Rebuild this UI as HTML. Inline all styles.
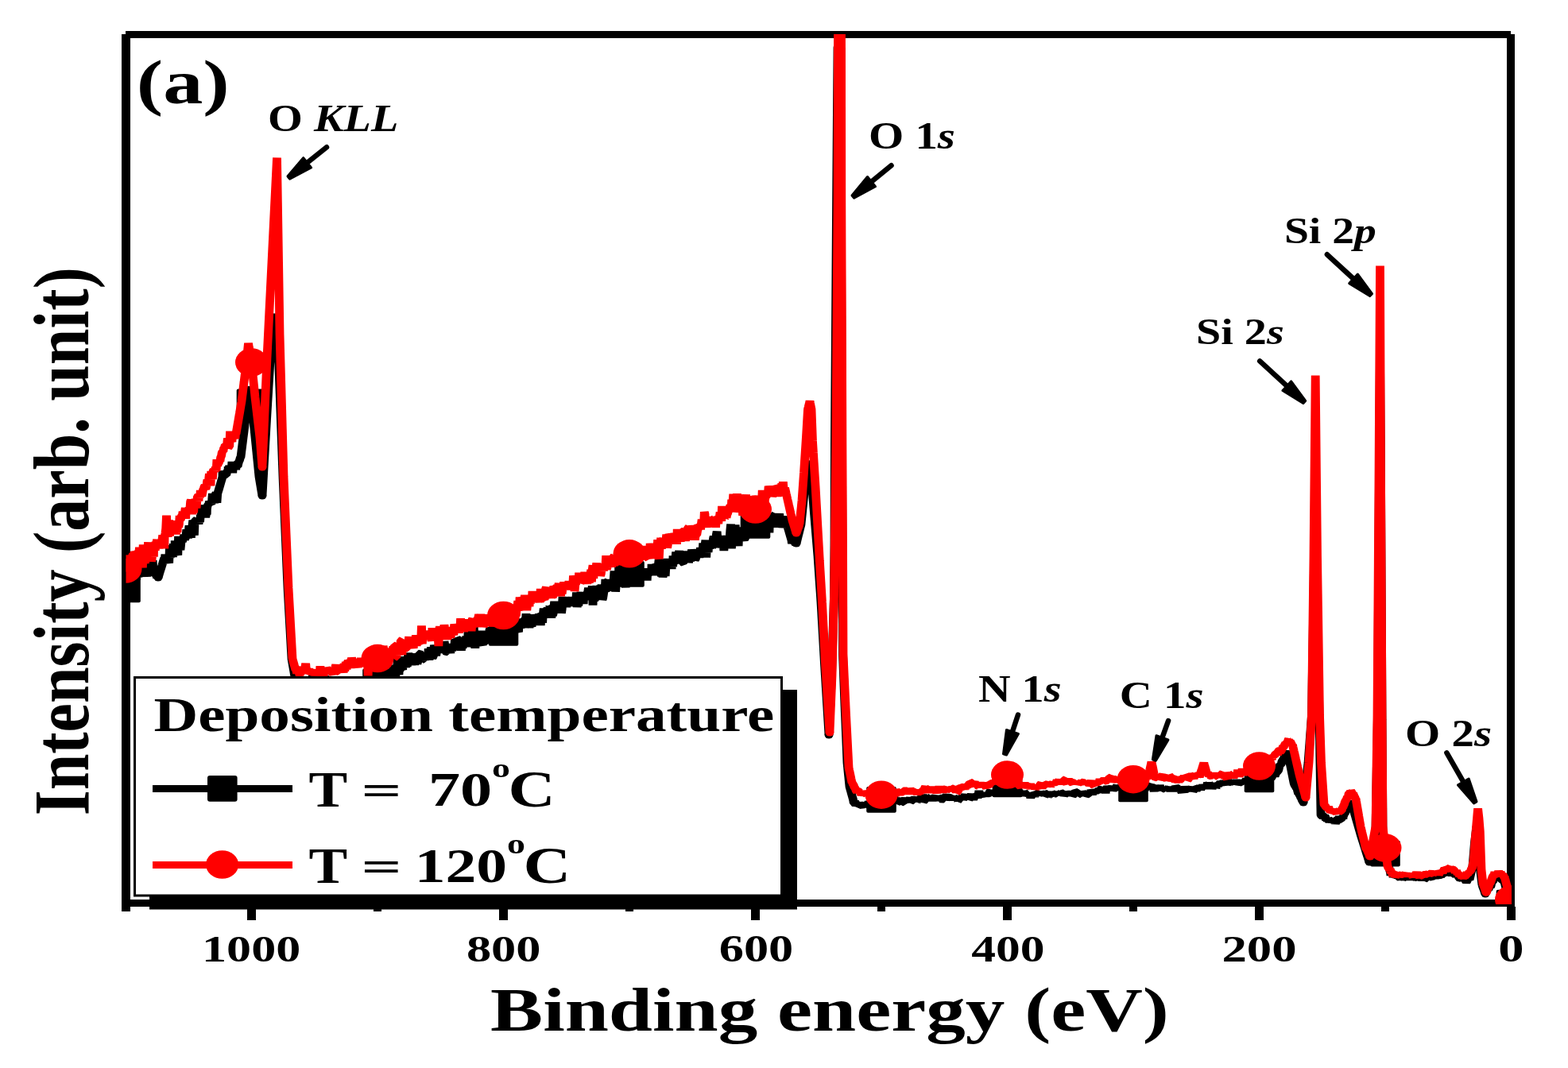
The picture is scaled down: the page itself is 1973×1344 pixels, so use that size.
<!DOCTYPE html>
<html><head><meta charset="utf-8"><title>XPS survey spectrum</title>
<style>
html,body{margin:0;padding:0;background:#fff;width:1973px;height:1344px;overflow:hidden}
svg{display:block}
text{font-family:"Liberation Serif","Times New Roman",serif;font-weight:bold;fill:#000}
</style></head><body>
<svg width="1973" height="1344" viewBox="0 0 1973 1344">
<rect x="0" y="0" width="1973" height="1344" fill="#fff"/>
<g fill="#000">
<rect x="158" y="39" width="1743" height="9"/>
<rect x="153" y="43" width="11" height="1104"/>
<rect x="1896" y="43" width="10" height="1098"/>
<rect x="153" y="1132" width="1753" height="9"/>
<rect x="1896.0" y="1141" width="11" height="17"/>
<rect x="1738.0" y="1141" width="10" height="6"/>
<rect x="1579.0" y="1141" width="11" height="17"/>
<rect x="1421.0" y="1141" width="10" height="6"/>
<rect x="1262.0" y="1141" width="11" height="17"/>
<rect x="1104.0" y="1141" width="10" height="6"/>
<rect x="945.0" y="1141" width="11" height="17"/>
<rect x="787.0" y="1141" width="10" height="6"/>
<rect x="628.0" y="1141" width="11" height="17"/>
<rect x="470.0" y="1141" width="10" height="6"/>
<rect x="311.0" y="1141" width="11" height="17"/>
</g>
<defs><clipPath id="pc"><rect x="158.5" y="43" width="1743.5" height="1095"/></clipPath></defs>
<g clip-path="url(#pc)">
<polyline transform="scale(1.2,1)" points="131.67,742.2 132.08,750.7 132.33,746.9 132.99,738.0 133.65,737.6 134.31,735.3 134.97,738.8 135.63,734.7 136.29,737.0 136.95,724.3 137.61,738.0 138.27,729.3 138.93,731.5 139.17,727.2 139.59,725.2 140.25,730.2 140.91,732.1 141.57,724.9 142.23,724.7 142.89,729.7 143.55,719.1 144.21,714.4 144.88,726.4 145.54,718.9 146.20,710.3 146.86,717.0 147.52,718.8 148.18,713.6 148.84,711.2 149.50,720.6 150.00,725.8 150.16,718.4 150.82,714.9 151.48,722.0 152.14,723.9 152.80,717.0 153.46,722.3 154.12,725.3 154.78,716.9 155.44,712.8 156.10,720.1 156.76,719.2 157.42,724.5 158.08,708.8 158.74,712.6 159.40,711.2 160.06,705.1 160.73,717.0 161.17,719.1 161.39,714.0 162.05,722.7 162.71,722.4 163.37,723.3 164.03,724.1 164.69,727.5 165.35,721.4 165.83,727.0 166.01,726.3 166.67,723.8 167.33,721.2 167.99,718.7 168.65,716.2 169.31,713.6 169.97,711.1 170.63,708.5 171.29,706.0 171.95,703.5 172.33,702.0 172.61,704.9 173.27,697.7 173.93,707.4 174.59,703.6 175.25,697.9 175.91,702.5 176.58,705.9 177.24,708.7 177.90,686.1 178.56,701.4 179.22,698.1 179.88,693.8 180.54,687.2 181.20,701.2 181.86,684.2 182.52,695.4 183.18,699.5 183.50,680.3 183.84,688.4 184.50,681.5 185.16,689.8 185.82,696.4 186.48,698.5 187.14,675.0 187.80,681.2 188.46,687.9 189.12,692.2 189.78,684.4 190.44,676.5 191.10,681.8 191.76,679.0 192.43,676.9 193.09,672.9 193.75,678.6 194.41,677.2 194.67,674.5 195.07,673.2 195.73,666.5 196.39,669.6 197.05,677.4 197.71,669.0 198.37,661.3 199.03,674.8 199.69,669.5 200.35,676.7 201.01,664.8 201.67,661.0 202.33,654.7 202.99,668.2 203.65,673.6 204.31,654.7 204.97,654.5 205.63,660.0 205.83,651.9 206.29,654.2 206.95,652.8 207.61,655.2 208.28,659.7 208.94,652.3 209.60,656.8 210.26,647.8 210.92,651.4 211.58,635.7 212.24,638.9 212.90,651.5 213.56,642.2 214.22,648.3 214.88,647.2 215.54,650.9 216.20,647.0 216.86,647.3 217.00,640.4 217.52,636.6 218.18,635.3 218.84,635.3 219.50,631.0 220.16,632.7 220.82,633.8 221.48,634.4 222.14,630.3 222.80,621.2 223.46,629.3 224.13,629.6 224.79,632.7 225.45,629.0 226.11,621.8 226.77,620.2 227.43,632.7 228.08,621.5 228.09,621.5 228.75,618.8 229.41,616.1 230.07,613.4 230.73,610.7 231.39,608.0 232.05,605.3 232.71,602.6 233.33,600.0 233.37,592.2 234.03,598.0 234.69,593.8 235.35,597.2 236.01,593.1 236.67,597.6 237.33,597.5 237.99,593.7 238.65,592.6 239.25,590.6 239.31,587.1 239.98,588.8 240.64,586.6 241.30,592.3 241.96,589.8 242.62,593.4 243.28,580.9 243.94,595.2 244.60,584.4 245.26,584.6 245.92,588.0 246.58,585.5 247.24,591.0 247.90,585.3 248.17,582.5 248.56,586.9 249.22,586.9 249.88,583.5 250.54,580.7 251.20,579.2 251.86,576.2 252.50,575.0 252.52,574.8 253.18,568.4 253.84,562.1 254.50,555.8 255.16,549.4 255.83,543.1 256.49,536.7 256.67,535.0 257.15,529.2 257.81,521.3 258.47,513.4 259.13,505.5 259.79,497.5 260.45,489.6 260.83,487.8 261.11,487.0 261.77,491.7 262.43,496.5 263.09,501.2 263.75,506.0 264.41,513.7 265.07,521.4 265.73,529.1 266.39,536.8 266.67,540.0 267.05,544.6 267.71,552.6 268.37,560.5 269.03,568.4 269.69,576.3 270.35,584.2 271.01,592.2 271.67,600.0 271.68,600.1 272.34,604.8 273.00,609.6 273.66,614.3 274.32,619.1 274.98,623.8 275.00,624.0 275.64,610.7 276.30,597.0 276.96,583.3 277.62,569.5 278.28,555.8 278.94,542.1 279.60,528.3 280.00,520.0 280.26,514.8 280.92,501.6 281.58,488.4 282.24,475.2 282.90,462.0 283.56,448.7 284.22,435.5 284.88,422.3 285.00,420.0 285.54,416.7 286.20,412.8 286.86,408.8 287.52,404.9 288.19,400.9 288.85,396.9 289.17,395.0 289.51,401.4 290.17,413.9 290.83,426.3 291.49,438.8 292.08,450.0 292.15,452.1 292.81,473.7 293.47,495.3 294.13,517.0 294.79,538.6 295.45,560.2 296.11,581.8 296.67,600.0 296.77,602.9 297.43,621.4 298.09,639.9 298.75,658.4 299.41,676.9 300.07,695.4 300.73,713.9 301.39,732.4 301.67,740.0 302.05,748.3 302.71,762.4 303.38,776.5 304.04,790.6 304.70,804.7 305.36,818.8 305.83,829.0 306.02,830.3 306.68,834.8 307.34,839.4 308.00,843.9 308.66,848.5 309.17,852.0 309.32,846.6 309.98,851.9 310.64,851.9 311.30,854.2 311.96,850.2 312.62,856.2 313.28,868.0 313.94,851.3 314.60,857.5 315.26,855.8 315.92,858.1 316.58,851.6 316.67,854.0 317.24,859.7 317.90,858.0 318.56,864.0 319.22,855.8 319.89,859.0 320.55,868.7 321.21,855.9 321.87,855.5 322.53,858.6 323.19,858.6 323.85,861.8 324.51,859.4 325.17,856.4 325.83,859.8 326.49,868.4 327.15,863.7 327.81,849.6 328.47,858.9 329.13,856.4 329.79,861.8 330.45,859.0 331.11,866.5 331.77,863.1 332.43,863.0 333.09,860.6 333.33,859.9 333.75,861.2 334.41,864.5 335.08,861.9 335.74,858.8 336.40,864.5 337.06,860.7 337.72,859.7 338.38,857.2 339.04,858.0 339.70,857.8 340.36,850.2 341.02,863.6 341.68,862.0 342.34,859.3 343.00,863.7 343.66,861.5 344.32,861.3 344.98,851.3 345.64,859.2 346.30,861.9 346.96,865.6 347.62,866.4 348.28,865.0 348.94,855.9 349.60,852.3 350.26,862.0 350.93,860.1 351.59,863.4 352.25,859.6 352.91,860.8 353.57,854.8 354.23,861.6 354.89,858.4 355.55,861.2 356.21,861.6 356.87,859.6 357.53,861.1 358.19,860.0 358.33,862.7 358.85,861.8 359.51,858.1 360.17,857.9 360.83,866.1 361.49,859.6 362.15,863.5 362.81,861.4 363.47,858.0 364.13,857.4 364.79,860.4 365.45,860.9 366.11,862.2 366.78,855.6 367.44,857.9 368.10,859.7 368.76,865.6 369.42,851.7 370.08,861.5 370.74,858.1 371.40,861.5 372.06,858.3 372.72,861.3 373.38,865.5 374.04,861.2 374.70,861.5 375.36,861.3 376.02,857.4 376.68,861.9 377.34,859.3 378.00,857.2 378.66,859.9 379.32,859.2 379.98,862.6 380.00,859.9 380.64,858.1 381.30,864.9 381.96,863.2 382.63,864.1 383.29,861.7 383.95,858.9 384.61,857.1 385.27,857.8 385.93,864.5 386.59,859.8 387.25,850.9 387.91,858.8 388.57,851.1 389.23,859.7 389.89,852.1 390.55,851.7 391.21,859.2 391.87,858.1 392.53,849.3 393.19,862.4 393.85,870.1 394.51,850.0 395.17,868.1 395.83,854.2 396.49,854.9 397.15,856.2 397.81,848.8 398.48,863.5 399.14,858.6 399.80,851.4 400.46,853.6 401.12,846.3 401.78,852.3 402.44,859.0 403.10,844.0 403.76,850.6 404.42,853.4 405.08,857.9 405.74,859.2 406.40,848.8 407.06,846.8 407.72,853.0 408.38,848.1 409.04,848.0 409.70,855.2 410.36,858.1 411.02,849.9 411.67,846.9 411.68,851.1 412.34,836.8 413.00,846.3 413.66,839.8 414.33,858.0 414.99,848.0 415.65,844.1 416.31,841.5 416.97,827.9 417.63,844.9 418.29,849.1 418.95,835.4 419.61,842.4 420.27,841.8 420.93,828.5 421.59,841.4 422.25,843.0 422.25,836.8 422.91,834.9 423.57,839.3 424.23,826.2 424.89,834.9 425.55,839.9 426.21,827.0 426.87,839.0 427.53,830.9 428.19,821.5 428.85,832.1 429.51,827.0 430.18,833.8 430.84,825.3 431.50,837.3 432.16,827.2 432.82,832.9 433.48,827.4 434.14,828.6 434.80,836.6 435.46,831.0 436.12,827.3 436.78,822.3 437.44,835.3 438.10,832.7 438.76,826.6 439.42,829.4 439.58,822.3 440.08,822.2 440.74,822.9 441.40,829.0 442.06,828.4 442.72,822.3 443.38,830.2 444.04,830.1 444.70,826.4 445.36,830.8 446.03,823.2 446.69,823.8 447.35,826.7 448.01,823.6 448.67,827.8 449.33,816.3 449.99,830.7 450.65,818.2 451.31,821.3 451.97,814.3 452.63,824.8 453.29,828.2 453.95,826.7 454.61,825.1 455.27,811.6 455.93,815.6 456.59,817.0 456.67,814.4 457.25,825.3 457.91,819.8 458.57,818.3 459.23,820.7 459.89,812.5 460.55,812.3 461.21,812.1 461.88,819.3 462.54,818.1 463.20,819.0 463.86,821.4 464.52,807.6 465.18,811.6 465.58,815.3 465.84,807.1 466.50,811.6 467.16,820.2 467.82,820.7 468.48,820.6 469.14,815.0 469.80,813.6 470.46,820.8 471.12,812.9 471.78,816.8 472.33,822.3 472.44,812.9 473.10,811.3 473.76,814.2 474.42,817.3 475.08,816.3 475.74,814.2 476.40,816.1 477.06,803.9 477.73,807.6 478.39,812.9 479.05,806.6 479.71,804.0 480.37,804.4 481.03,805.7 481.69,809.4 482.35,804.4 483.01,811.0 483.67,818.7 484.33,808.3 484.99,815.8 485.65,810.0 486.31,802.0 486.97,806.4 487.63,802.1 488.29,811.4 488.95,800.5 489.61,813.8 490.27,809.3 490.93,794.7 491.59,809.8 492.25,813.7 492.91,800.5 493.57,810.0 494.24,794.3 494.67,805.4 494.90,794.8 495.56,806.4 496.22,793.8 496.88,789.0 497.54,805.5 498.20,815.8 498.86,799.8 499.52,807.5 500.18,803.3 500.84,800.8 501.50,805.8 502.16,811.3 502.82,795.3 503.48,805.1 504.14,803.7 504.80,793.8 505.46,810.4 506.12,812.1 506.78,796.0 507.44,810.6 508.10,801.2 508.76,799.9 509.42,808.9 510.09,801.7 510.75,802.1 511.41,808.5 512.07,807.1 512.73,804.8 513.39,792.0 514.05,790.9 514.71,805.6 515.37,794.2 516.03,799.9 516.69,793.1 517.35,797.8 518.01,791.6 518.67,807.5 519.33,792.8 519.99,797.5 520.65,797.0 521.31,804.5 521.97,789.9 522.63,797.4 523.29,796.3 523.95,800.2 524.61,799.8 525.27,794.5 525.94,798.2 526.60,794.6 527.26,799.1 527.92,795.8 528.58,792.4 529.24,795.5 529.90,797.3 530.56,807.3 531.22,791.8 531.88,795.8 532.54,801.8 533.20,781.9 533.86,783.4 534.52,786.1 535.18,791.6 535.84,805.3 536.50,793.6 537.16,797.7 537.82,789.5 538.48,776.8 539.14,777.2 539.80,795.2 540.46,790.2 541.13,781.7 541.79,794.6 542.45,779.6 543.11,793.9 543.77,795.3 544.43,782.7 545.09,780.4 545.75,790.8 546.41,779.7 547.07,790.1 547.73,778.4 548.39,789.1 549.05,784.8 549.71,781.5 550.37,778.6 551.03,784.4 551.69,772.3 552.35,780.8 553.01,779.8 553.67,785.3 554.33,774.3 554.99,790.3 555.65,778.7 556.31,773.8 556.98,787.3 557.64,788.5 558.30,777.9 558.96,773.7 559.62,778.3 560.28,774.0 560.94,775.7 561.60,785.6 561.67,779.2 562.26,777.4 562.92,778.1 563.58,775.5 564.24,780.0 564.90,779.8 565.56,772.5 566.22,774.7 566.88,787.0 567.54,775.6 568.20,771.9 568.86,783.7 569.52,772.1 570.18,765.6 570.84,774.9 571.50,765.9 572.16,767.7 572.83,771.8 573.49,768.9 574.15,764.9 574.81,765.7 575.47,765.1 576.13,774.3 576.79,763.5 577.45,763.9 578.11,777.9 578.77,763.2 579.43,774.0 580.09,772.6 580.75,764.2 581.41,756.8 582.07,766.7 582.73,767.4 583.39,768.7 583.92,763.4 584.05,769.6 584.71,770.4 585.37,756.7 586.03,770.1 586.69,763.0 587.35,758.7 588.01,759.8 588.68,771.6 589.34,766.5 590.00,751.0 590.66,761.0 591.32,759.6 591.98,759.1 592.64,757.1 593.30,751.6 593.96,764.1 594.62,754.0 595.28,756.9 595.94,755.4 596.60,754.5 597.26,762.3 597.92,760.1 598.58,754.0 599.24,752.3 599.90,754.7 600.56,762.4 601.22,757.5 601.88,757.8 602.54,754.5 603.20,754.7 603.86,757.0 604.53,745.5 605.19,764.2 605.85,750.8 606.25,751.9 606.51,762.2 607.17,755.8 607.83,754.5 608.49,750.8 609.15,745.1 609.81,754.4 610.47,759.7 611.13,747.9 611.79,760.0 612.45,746.0 613.11,747.9 613.77,754.4 614.43,751.3 615.09,754.8 615.75,746.7 616.41,744.8 617.07,739.9 617.73,743.2 618.39,743.6 619.05,741.4 619.71,750.7 620.38,745.0 621.04,737.4 621.70,761.7 622.36,743.2 623.02,740.6 623.68,754.0 624.34,753.3 625.00,740.3 625.66,738.2 626.32,740.5 626.98,751.9 627.64,743.7 628.30,740.7 628.58,744.8 628.96,751.4 629.62,736.6 630.28,741.7 630.94,735.7 631.60,754.8 632.26,752.3 632.92,747.1 633.58,740.7 634.24,744.5 634.90,728.9 635.56,741.5 636.23,732.1 636.89,731.7 637.55,734.6 638.21,736.1 638.87,740.7 639.53,740.9 640.19,738.1 640.85,730.9 641.51,739.4 642.17,734.5 642.83,741.2 643.49,729.2 644.15,718.6 644.81,730.7 645.47,744.6 646.13,734.9 646.79,730.8 647.45,736.2 648.11,733.7 648.77,733.0 649.43,727.1 650.09,729.9 650.75,730.1 651.41,725.0 652.08,721.9 652.74,728.3 653.40,732.4 654.06,730.2 654.72,728.8 655.38,728.4 656.04,739.4 656.70,726.1 657.36,729.9 658.02,734.5 658.68,723.5 659.34,724.2 660.00,728.0 660.42,731.3 660.66,723.7 661.32,723.8 661.98,722.2 662.64,715.0 663.30,727.6 663.96,720.0 664.62,711.8 665.28,720.4 665.94,711.5 666.60,715.4 667.26,720.9 667.93,715.6 668.59,726.5 669.25,712.4 669.91,721.8 670.57,723.3 671.23,728.2 671.89,725.1 672.55,721.2 673.21,720.3 673.87,719.4 674.53,725.8 675.19,715.9 675.85,722.2 676.51,718.7 677.17,720.5 677.83,717.6 678.49,730.6 679.15,715.2 679.81,720.1 680.47,720.1 681.13,721.8 681.79,720.8 682.45,720.6 683.11,723.5 683.33,709.8 683.77,717.9 684.44,710.8 685.10,718.6 685.76,710.5 686.42,711.4 687.08,716.1 687.74,723.8 688.40,719.0 689.06,717.2 689.72,723.0 690.38,709.7 691.04,703.1 691.70,712.0 692.36,712.5 693.02,720.6 693.68,725.2 694.34,705.9 695.00,726.5 695.66,721.2 696.32,716.9 696.98,714.0 697.64,725.1 698.30,711.9 698.96,708.5 699.62,711.6 700.29,703.0 700.95,712.8 701.61,709.4 702.27,711.5 702.93,711.3 703.59,703.3 704.25,716.0 704.91,702.9 705.57,713.1 705.83,699.3 706.23,709.9 706.89,703.0 707.55,707.5 708.21,703.3 708.87,694.6 709.53,700.1 710.19,706.3 710.85,709.0 711.51,697.2 712.17,693.3 712.83,699.8 713.49,703.1 714.15,700.5 714.81,699.2 715.48,708.0 716.14,708.3 716.80,706.8 717.46,697.2 718.12,702.5 718.78,700.6 719.44,693.5 720.10,705.9 720.76,701.2 721.42,697.7 722.08,707.9 722.74,704.0 723.40,704.1 724.06,705.7 724.72,702.7 725.38,691.5 726.04,696.0 726.70,703.3 727.36,693.2 728.02,697.4 728.17,699.3 728.68,704.7 729.34,703.5 730.00,701.0 730.66,694.6 731.33,700.3 731.99,697.8 732.65,693.6 733.31,701.6 733.97,696.4 734.63,689.2 735.29,699.9 735.95,691.1 736.61,695.4 737.27,683.4 737.93,691.3 738.59,685.8 739.25,685.3 739.91,679.7 740.57,701.6 741.23,688.6 741.89,690.4 742.55,694.8 743.21,687.6 743.87,690.7 744.53,680.1 745.19,688.2 745.85,684.5 746.51,689.1 747.18,687.0 747.84,678.0 748.50,675.0 749.16,679.2 749.82,688.5 750.48,686.4 750.50,686.3 751.14,672.7 751.80,668.7 752.46,679.8 753.12,681.2 753.78,679.4 754.44,684.4 755.10,681.2 755.76,675.4 756.42,676.8 757.08,682.2 757.74,681.5 758.40,680.4 759.06,693.0 759.72,678.9 760.38,680.7 761.04,674.3 761.70,677.5 762.36,682.1 763.02,682.1 763.69,677.8 764.35,680.6 765.01,678.5 765.67,667.5 766.33,659.6 766.99,690.1 767.65,681.7 768.31,676.5 768.97,667.0 769.63,669.3 770.29,683.5 770.95,660.4 771.61,673.7 772.27,680.0 772.83,675.8 772.93,679.1 773.59,673.7 774.25,687.2 774.91,667.9 775.57,665.6 776.23,674.1 776.89,680.0 777.55,671.4 778.21,677.0 778.88,667.8 779.54,663.8 780.20,677.5 780.86,678.0 781.52,677.3 782.18,666.0 782.84,661.6 783.50,661.1 784.16,665.8 784.82,669.8 785.48,668.9 786.14,657.8 786.80,666.3 787.46,664.8 788.12,664.8 788.78,663.7 789.44,662.2 790.10,666.2 790.76,663.1 791.42,663.2 792.08,657.7 792.74,663.4 793.40,660.2 794.06,648.9 794.73,662.9 795.39,658.4 796.05,664.7 796.71,658.4 797.37,658.4 798.03,659.8 798.69,658.2 799.35,655.5 800.01,647.8 800.67,667.5 801.33,648.3 801.99,654.8 802.65,660.0 803.31,658.1 803.97,658.9 804.63,659.6 805.29,662.0 805.95,656.4 806.61,670.4 807.27,648.6 807.93,655.1 808.59,651.5 809.25,650.2 809.91,654.4 810.58,660.5 811.24,648.3 811.67,648.1 811.90,656.1 812.56,655.3 813.22,663.3 813.88,658.4 814.54,654.2 815.20,651.3 815.86,654.5 816.52,652.6 817.18,646.3 817.84,654.0 818.50,653.2 819.16,653.1 819.82,652.2 820.48,664.1 821.14,658.9 821.80,660.4 822.46,652.1 823.12,650.0 823.78,654.3 824.17,656.0 824.44,657.1 825.10,659.9 825.76,662.6 826.43,665.3 827.09,668.0 827.75,670.7 828.41,673.4 829.07,676.2 829.73,678.9 830.00,680.0 830.39,684.1 831.05,681.0 831.71,676.3 832.37,678.5 833.03,683.1 833.69,683.5 834.35,684.5 835.00,684.0 835.01,683.9 835.67,680.8 836.33,677.6 836.99,674.4 837.65,671.3 838.31,668.1 838.97,664.9 839.63,661.8 840.00,660.0 840.29,656.5 840.95,648.6 841.61,640.6 842.28,632.7 842.94,624.8 843.33,620.0 843.60,617.4 844.26,610.8 844.92,604.2 845.58,597.6 845.83,595.0 846.24,592.6 846.90,588.6 847.56,584.6 848.22,580.7 848.33,580.0 848.88,584.4 849.54,589.6 850.20,594.9 850.83,600.0 850.86,600.4 851.52,611.0 852.18,621.6 852.84,632.1 853.33,640.0 853.50,642.4 854.16,651.9 854.82,661.4 855.48,671.0 856.14,680.5 856.80,690.0 857.46,699.5 857.50,700.0 858.12,710.9 858.79,722.4 859.45,733.9 860.11,745.3 860.77,756.8 860.83,758.0 861.43,770.4 862.09,784.1 862.75,797.8 863.41,811.6 864.07,825.3 864.58,836.0 864.73,838.8 865.39,851.7 866.05,864.5 866.71,877.3 867.37,890.1 868.03,903.0 868.69,915.8 869.17,925.0 869.35,920.2 870.01,903.3 870.67,886.3 871.33,869.3 871.99,852.3 872.08,850.0 872.65,827.2 873.31,800.8 873.98,774.3 874.58,750.0 874.64,741.2 875.00,680.0 875.30,573.5 875.33,560.0 875.96,454.7 876.62,343.0 877.17,250.0 877.28,232.0 877.94,124.5 878.33,60.0 878.60,58.7 879.26,58.6 879.92,59.7 880.58,58.7 881.24,62.9 881.67,60.0 881.90,237.3 881.92,250.0 882.56,467.7 882.83,560.0 883.22,668.5 883.33,700.0 883.75,823.0 883.88,827.1 884.54,847.7 885.20,868.3 885.83,888.0 885.86,888.8 886.52,907.9 887.18,926.9 887.84,945.9 888.33,960.0 888.50,962.0 889.16,970.0 889.83,977.9 890.49,985.8 890.83,990.0 891.15,991.4 891.81,994.2 892.47,997.1 893.13,999.9 893.79,1002.8 894.45,1005.6 895.00,1008.7 895.11,1010.6 895.77,1010.9 896.43,1008.7 897.09,1010.2 897.75,1011.3 898.41,1012.5 899.07,1012.1 899.73,1011.4 900.00,1013.9 900.39,1013.7 901.05,1011.3 901.71,1012.3 902.37,1013.0 903.03,1012.6 903.69,1013.2 904.35,1013.4 905.01,1013.0 905.67,1012.2 906.34,1010.6 907.00,1012.9 907.66,1013.7 908.32,1014.4 908.33,1011.9 908.98,1011.7 909.64,1014.1 910.30,1013.9 910.96,1011.7 911.62,1012.1 912.28,1009.2 912.94,1011.4 913.60,1008.7 914.26,1009.7 914.92,1009.5 915.58,1008.6 916.24,1005.4 916.90,1007.5 917.56,1009.4 918.22,1008.4 918.88,1007.6 919.54,1008.9 920.20,1009.1 920.86,1009.1 921.52,1005.9 922.19,1007.2 922.85,1006.3 923.51,1005.1 924.17,1003.8 924.83,1006.3 925.49,1005.0 926.15,1010.5 926.81,1006.5 927.47,1006.3 928.13,1006.0 928.79,1010.1 929.45,1005.1 930.11,1006.5 930.77,1005.5 931.43,1006.7 932.09,1006.9 932.75,1009.0 933.41,1004.5 934.07,1007.0 934.73,1010.0 935.39,1006.2 936.05,1006.9 936.71,1005.6 937.38,1002.6 938.04,1007.1 938.70,1009.5 939.36,1006.6 940.02,1004.1 940.68,1008.0 941.34,1007.7 942.00,1009.4 942.66,1009.2 943.32,1007.2 943.98,1008.4 944.64,1004.5 945.30,1009.8 945.96,1008.1 946.62,1009.8 947.28,1009.8 947.94,1007.4 948.60,1007.7 948.67,1006.4 949.26,1004.2 949.92,1007.6 950.58,1008.0 951.24,1005.7 951.90,1008.8 952.56,1007.6 953.22,1008.2 953.89,1005.9 954.55,1004.0 955.21,1008.5 955.87,1008.1 956.53,1006.7 957.19,1006.1 957.85,1006.3 958.51,1006.4 959.17,1005.7 959.83,1002.9 960.49,1007.8 961.15,1003.6 961.81,1005.6 962.47,1005.6 963.13,1006.5 963.79,1003.1 964.45,1008.1 965.11,1007.0 965.77,1007.1 966.43,1007.9 967.09,1004.1 967.75,999.8 968.41,1006.0 969.07,1007.7 969.74,1007.3 970.40,1004.2 971.06,1004.9 971.72,1005.5 972.38,1001.6 973.04,1003.6 973.70,1003.6 974.36,1007.5 975.02,1003.4 975.68,1007.3 976.34,1004.4 977.00,1001.3 977.66,1008.2 978.32,1002.3 978.98,1005.1 979.64,1007.0 980.30,1002.9 980.96,1001.5 981.62,1005.5 982.28,1003.7 982.92,1001.3 982.94,1001.6 983.60,1002.8 984.26,1005.3 984.92,1003.1 985.59,1004.9 986.25,1006.7 986.91,1006.0 987.57,1006.4 988.23,1006.1 988.89,1001.0 989.55,1006.1 990.21,1004.6 990.87,1003.8 991.53,1002.1 992.19,1001.2 992.85,1002.2 993.51,1004.2 994.17,1002.1 994.83,1002.8 995.49,1003.2 996.15,1005.6 996.81,1003.9 997.47,1004.2 998.13,1006.9 998.79,1004.0 999.45,1005.7 1000.11,1002.7 1000.78,1005.3 1001.44,1004.9 1002.10,1005.1 1002.76,1004.0 1003.42,1003.0 1004.08,1004.4 1004.74,1004.1 1005.40,1006.8 1005.75,1006.6 1006.06,1002.8 1006.72,1005.9 1007.38,1003.8 1008.04,1005.3 1008.70,1003.5 1009.36,1001.6 1010.02,1005.9 1010.68,1004.7 1011.34,1001.6 1012.00,1000.2 1012.66,1002.5 1013.32,1001.2 1013.98,1002.5 1014.64,1004.1 1015.30,1005.5 1015.96,1002.1 1016.63,1005.1 1017.29,1004.5 1017.95,1001.5 1018.61,999.2 1019.27,1003.5 1019.93,1003.0 1020.59,1006.0 1021.25,1004.1 1021.91,1002.8 1022.57,1004.3 1023.23,999.2 1023.89,1001.3 1024.55,1000.4 1025.21,1003.8 1025.87,1001.6 1026.53,994.9 1027.19,1002.7 1027.85,998.5 1028.33,1001.4 1028.51,999.1 1029.17,1000.3 1029.83,1000.8 1030.49,999.9 1031.15,997.7 1031.81,1001.7 1032.48,999.8 1033.14,998.9 1033.80,1000.0 1034.46,997.7 1035.12,1001.9 1035.78,998.7 1036.44,998.8 1037.10,998.7 1037.76,996.2 1038.42,995.6 1039.08,998.0 1039.74,998.1 1040.40,999.7 1041.06,997.9 1041.72,995.0 1042.38,997.8 1043.04,998.2 1043.70,998.3 1044.36,997.0 1045.02,994.0 1045.68,998.2 1045.83,994.7 1046.34,996.6 1047.00,992.2 1047.66,995.8 1048.33,992.5 1048.99,995.3 1049.65,995.9 1050.31,994.3 1050.97,989.5 1051.63,989.3 1052.29,988.9 1052.95,991.1 1053.61,989.9 1054.27,989.0 1054.93,988.7 1055.59,988.6 1056.25,988.2 1056.91,990.8 1057.57,988.3 1058.23,989.5 1058.89,986.5 1059.55,988.1 1060.21,990.0 1060.87,989.8 1061.53,993.0 1062.19,995.2 1062.85,993.2 1063.51,993.8 1064.17,994.5 1064.84,996.3 1065.50,995.8 1066.16,998.2 1066.67,998.6 1066.82,998.6 1067.48,999.5 1068.14,998.2 1068.80,998.5 1069.46,1001.5 1070.12,998.3 1070.78,999.9 1071.44,998.6 1072.10,997.8 1072.76,997.8 1073.42,997.3 1074.08,998.8 1074.74,997.8 1075.40,998.2 1076.06,1001.2 1076.72,998.9 1077.38,1001.2 1078.04,999.7 1078.70,1000.9 1079.36,998.3 1080.03,999.7 1080.69,1004.3 1081.35,1001.1 1082.01,1001.5 1082.67,1000.2 1083.33,1001.4 1083.99,997.8 1084.65,998.4 1085.00,1000.8 1085.31,1001.5 1085.97,999.2 1086.63,999.6 1087.29,999.2 1087.95,999.5 1088.61,997.7 1089.27,997.2 1089.93,999.6 1090.59,996.6 1091.25,998.0 1091.91,998.5 1092.57,997.8 1093.23,1000.1 1093.89,998.8 1094.55,999.4 1095.21,997.7 1095.88,998.2 1096.54,1000.4 1097.20,1000.1 1097.86,998.6 1098.52,1000.0 1099.18,999.7 1099.84,999.6 1100.50,1002.2 1101.16,998.5 1101.82,1000.0 1102.48,1000.0 1103.14,998.7 1103.80,997.0 1104.46,1000.4 1105.12,999.6 1105.78,999.1 1106.44,999.1 1107.10,999.0 1107.76,997.4 1108.33,999.5 1108.42,995.7 1109.08,998.9 1109.74,996.2 1110.40,998.2 1111.06,1000.1 1111.73,998.4 1112.39,997.9 1113.05,999.7 1113.71,998.3 1114.37,998.0 1115.03,998.0 1115.69,1001.4 1116.35,999.9 1117.01,999.5 1117.67,996.5 1118.33,999.7 1118.99,996.3 1119.65,999.4 1120.31,996.5 1120.97,1002.0 1121.63,995.5 1122.29,1000.7 1122.95,999.9 1123.61,995.3 1124.27,998.0 1124.93,1001.0 1125.59,1000.4 1126.25,995.4 1126.91,997.4 1127.58,996.2 1128.24,996.5 1128.90,997.1 1129.56,1001.6 1130.22,998.5 1130.88,997.8 1131.54,997.6 1132.20,999.4 1132.86,999.4 1133.52,996.5 1134.18,1000.8 1134.84,996.2 1135.50,997.6 1136.16,998.9 1136.82,1001.1 1137.48,997.4 1138.14,998.5 1138.80,1000.3 1139.46,999.1 1140.12,1000.0 1140.78,999.8 1141.44,998.4 1142.10,999.0 1142.50,999.5 1142.76,997.8 1143.43,1000.5 1144.09,993.9 1144.75,995.6 1145.41,999.7 1146.07,997.6 1146.73,995.5 1147.39,997.2 1148.05,998.3 1148.71,995.1 1149.37,997.3 1150.03,995.5 1150.69,995.3 1151.35,995.2 1152.01,997.2 1152.67,993.0 1153.33,994.1 1153.99,995.8 1154.65,992.2 1155.31,991.4 1155.97,995.1 1156.63,993.9 1157.29,993.4 1157.95,993.7 1158.61,991.5 1159.28,998.4 1159.94,991.2 1160.60,992.0 1161.26,990.0 1161.92,991.6 1162.58,994.9 1163.24,992.0 1163.90,992.9 1164.56,990.7 1165.22,994.7 1165.33,991.7 1165.88,989.2 1166.54,992.9 1167.20,990.8 1167.86,992.6 1168.52,991.8 1169.18,992.1 1169.84,991.9 1170.50,990.1 1171.16,989.1 1171.82,993.6 1172.48,991.6 1173.14,992.4 1173.80,991.1 1174.46,988.3 1175.13,989.7 1175.79,994.6 1176.45,990.7 1177.11,991.5 1177.77,989.6 1178.43,991.3 1179.09,991.6 1179.75,991.9 1180.41,992.2 1181.07,991.3 1181.73,991.4 1182.39,992.5 1183.05,993.1 1183.71,992.3 1184.37,995.8 1185.03,993.0 1185.69,993.0 1186.35,991.6 1187.01,994.6 1187.67,991.0 1188.33,990.0 1188.99,991.0 1189.65,993.8 1190.31,990.5 1190.98,994.8 1191.64,992.3 1192.30,989.5 1192.96,991.7 1193.62,995.3 1194.28,990.4 1194.94,989.5 1195.60,992.7 1196.26,994.0 1196.92,993.4 1197.58,990.8 1198.24,991.7 1198.90,991.8 1199.56,993.2 1200.22,994.9 1200.88,990.7 1201.54,993.1 1202.20,990.1 1202.86,991.7 1203.52,988.8 1204.18,989.0 1204.84,991.0 1205.50,988.6 1206.16,991.7 1206.83,989.0 1207.49,990.0 1207.50,989.7 1208.15,989.4 1208.81,990.4 1209.47,992.2 1210.13,996.0 1210.79,988.4 1211.45,991.2 1212.11,990.5 1212.77,989.3 1213.43,991.6 1214.09,989.6 1214.75,991.2 1215.41,993.7 1216.07,988.0 1216.73,992.2 1217.39,992.7 1218.05,990.3 1218.71,993.1 1219.37,992.9 1220.03,991.8 1220.69,994.7 1221.35,990.3 1222.01,993.9 1222.42,992.5 1222.68,991.0 1223.34,992.6 1224.00,992.3 1224.66,994.4 1225.32,990.3 1225.98,992.7 1226.64,992.2 1227.30,995.9 1227.96,991.1 1228.62,995.1 1229.28,990.0 1229.94,993.8 1230.60,993.0 1231.26,993.9 1231.92,992.0 1232.58,989.8 1233.24,990.6 1233.90,995.7 1234.56,993.8 1235.22,991.9 1235.88,995.1 1236.54,992.1 1237.20,992.2 1237.86,991.4 1238.53,995.7 1239.19,997.1 1239.85,991.9 1240.51,994.2 1241.17,995.4 1241.83,997.5 1242.49,989.4 1243.15,994.0 1243.81,994.9 1244.47,991.2 1245.00,994.6 1245.13,994.2 1245.79,995.0 1246.45,992.5 1247.11,994.2 1247.77,992.2 1248.43,994.3 1249.09,993.3 1249.75,992.2 1250.41,990.2 1251.07,995.6 1251.73,994.5 1252.39,994.0 1253.05,991.1 1253.71,991.5 1254.38,995.0 1255.04,993.2 1255.70,990.2 1256.36,991.7 1257.02,991.7 1257.68,991.0 1258.34,989.5 1259.00,993.4 1259.66,992.0 1260.32,990.5 1260.98,987.9 1261.64,989.5 1262.30,990.4 1262.96,991.9 1263.62,989.5 1264.28,992.1 1264.94,990.2 1265.60,988.5 1266.26,984.7 1266.92,987.4 1267.58,986.7 1268.00,989.1 1268.24,989.9 1268.90,991.6 1269.56,989.0 1270.23,986.7 1270.89,992.9 1271.55,989.1 1272.21,987.9 1272.87,987.7 1273.53,985.6 1274.19,989.0 1274.85,988.4 1275.51,990.4 1276.17,989.4 1276.83,988.8 1277.49,989.4 1278.15,986.4 1278.81,986.0 1279.47,986.5 1280.13,984.2 1280.79,986.0 1281.45,985.5 1282.11,987.2 1282.77,985.8 1283.43,982.2 1284.09,985.6 1284.75,987.9 1285.41,981.9 1286.08,983.7 1286.74,984.9 1287.40,982.3 1288.06,983.6 1288.72,984.5 1289.38,981.9 1290.04,984.6 1290.70,984.7 1290.83,981.6 1291.36,983.9 1292.02,985.7 1292.68,983.4 1293.34,984.4 1294.00,984.8 1294.66,983.1 1295.32,985.2 1295.98,984.1 1296.64,981.5 1297.30,984.2 1297.96,984.8 1298.62,984.6 1299.28,981.9 1299.94,983.8 1300.60,985.4 1301.26,983.3 1301.92,984.9 1302.59,985.1 1303.25,982.6 1303.91,983.8 1304.57,982.0 1305.23,984.4 1305.89,982.3 1306.55,981.4 1307.21,982.2 1307.87,982.1 1308.53,982.8 1309.19,982.9 1309.85,979.9 1310.51,980.8 1311.17,982.5 1311.83,982.7 1312.49,981.9 1313.15,986.4 1313.81,983.6 1314.47,981.4 1315.13,982.8 1315.79,983.8 1316.45,982.0 1317.11,978.2 1317.78,981.4 1318.44,981.3 1319.10,985.0 1319.76,977.7 1320.42,983.8 1321.08,980.5 1321.74,982.2 1322.40,979.8 1323.06,980.4 1323.72,981.9 1324.38,979.8 1325.04,981.3 1325.70,979.0 1326.36,978.2 1327.02,978.3 1327.68,977.6 1328.34,978.0 1329.00,980.5 1329.66,975.7 1330.32,974.6 1330.98,977.3 1331.64,980.1 1332.30,978.7 1332.96,979.0 1333.62,978.3 1334.29,975.1 1334.95,976.1 1335.61,971.7 1336.27,974.5 1336.93,976.1 1337.50,975.0 1337.59,973.3 1338.25,972.2 1338.91,971.8 1339.57,970.9 1340.23,970.4 1340.89,968.0 1341.55,964.2 1342.21,962.0 1342.87,962.2 1343.53,961.3 1344.19,957.8 1344.85,957.0 1345.51,955.5 1346.17,954.2 1346.83,952.5 1347.49,951.4 1348.15,950.3 1348.81,947.9 1349.47,946.9 1350.00,945.0 1350.14,945.8 1350.80,949.8 1351.46,953.7 1352.12,957.7 1352.78,961.7 1353.44,965.6 1354.10,969.6 1354.76,973.6 1355.42,977.5 1356.08,981.5 1356.67,985.0 1356.74,985.5 1357.40,987.8 1358.06,989.3 1358.72,989.8 1359.38,992.5 1360.04,992.3 1360.70,995.8 1361.36,998.7 1362.02,998.8 1362.68,1000.5 1363.34,1001.8 1364.00,1004.0 1364.66,1004.8 1365.33,1007.2 1365.99,1008.2 1366.65,1009.7 1366.67,1010.0 1367.31,1003.6 1367.97,997.0 1368.63,990.4 1369.29,983.8 1369.95,977.2 1370.61,970.6 1371.27,964.0 1371.67,960.0 1371.93,955.8 1372.59,945.2 1373.25,934.7 1373.91,924.1 1374.57,913.5 1375.23,903.0 1375.42,900.0 1375.89,865.8 1376.55,818.3 1377.21,770.7 1377.50,750.0 1377.87,716.4 1378.53,657.0 1379.17,600.0 1379.19,602.4 1379.85,661.9 1380.51,721.3 1380.83,750.0 1381.18,770.5 1381.84,810.1 1382.50,849.7 1383.16,889.4 1383.33,900.0 1383.82,936.2 1384.48,985.8 1385.00,1025.0 1385.14,1026.1 1385.80,1026.8 1386.46,1024.9 1387.12,1025.0 1387.78,1030.4 1388.44,1027.8 1389.10,1026.8 1389.76,1028.1 1390.00,1030.2 1390.42,1032.1 1391.08,1030.7 1391.74,1032.8 1392.40,1031.7 1393.06,1032.4 1393.72,1033.5 1394.38,1031.8 1395.04,1033.1 1395.70,1032.4 1396.36,1032.4 1397.03,1034.6 1397.69,1032.7 1398.35,1034.4 1399.01,1033.4 1399.67,1034.8 1400.00,1034.3 1400.33,1036.5 1400.99,1034.4 1401.65,1033.8 1402.31,1035.6 1402.97,1028.3 1403.63,1030.4 1404.29,1027.4 1404.95,1030.9 1405.61,1031.0 1406.27,1030.8 1406.93,1029.7 1407.59,1027.4 1408.25,1030.8 1408.33,1028.5 1408.91,1026.4 1409.57,1024.2 1410.23,1023.8 1410.89,1021.5 1411.55,1020.0 1412.21,1018.9 1412.88,1017.3 1413.54,1014.9 1414.20,1014.9 1414.86,1011.6 1415.52,1009.9 1416.18,1009.4 1416.67,1008.0 1416.84,1008.7 1417.50,1011.5 1418.16,1014.3 1418.82,1017.0 1419.48,1019.8 1420.14,1022.6 1420.80,1025.4 1421.46,1028.1 1422.12,1030.9 1422.78,1033.7 1423.44,1036.5 1424.10,1039.2 1424.76,1042.0 1425.42,1044.8 1426.08,1047.5 1426.67,1050.0 1426.74,1050.3 1427.40,1052.8 1428.06,1055.3 1428.73,1057.9 1429.39,1060.4 1430.05,1062.9 1430.71,1065.4 1431.37,1067.9 1432.03,1070.5 1432.69,1073.0 1433.35,1075.5 1434.01,1078.0 1434.67,1080.6 1435.33,1083.1 1435.83,1085.0 1435.99,1084.1 1436.65,1080.1 1437.31,1076.1 1437.97,1072.2 1438.63,1068.2 1439.29,1064.2 1439.95,1060.3 1440.61,1056.3 1441.27,1052.4 1441.93,1048.4 1442.50,1045.0 1442.59,1038.5 1443.25,992.5 1443.91,946.5 1444.58,900.6 1444.58,900.0 1445.24,782.6 1445.90,663.7 1446.25,600.0 1446.56,544.9 1447.08,450.0 1447.22,474.0 1447.88,592.9 1447.92,600.0 1448.54,749.0 1449.17,900.0 1449.20,905.4 1449.86,1020.3 1450.00,1045.0 1450.52,1051.0 1451.18,1058.7 1451.84,1066.3 1452.50,1074.0 1453.16,1076.9 1453.82,1079.9 1454.48,1082.8 1455.14,1085.8 1455.80,1088.7 1456.46,1091.7 1457.12,1094.6 1457.78,1097.5 1458.33,1101.7 1458.44,1100.3 1459.10,1100.7 1459.76,1100.3 1460.42,1100.5 1461.09,1100.7 1461.75,1103.0 1462.41,1101.3 1463.07,1101.8 1463.73,1102.8 1464.39,1102.2 1465.05,1102.9 1465.71,1100.3 1466.37,1104.4 1466.67,1103.6 1467.03,1104.3 1467.69,1104.6 1468.35,1101.2 1469.01,1107.6 1469.67,1104.2 1470.33,1104.3 1470.99,1101.3 1471.65,1104.9 1472.31,1104.6 1472.97,1103.4 1473.63,1104.4 1474.29,1105.9 1474.95,1103.5 1475.61,1102.6 1476.28,1106.0 1476.94,1104.4 1477.60,1103.7 1478.26,1107.4 1478.92,1104.2 1479.58,1103.6 1480.24,1104.3 1480.90,1103.3 1481.56,1104.2 1482.22,1104.1 1482.88,1102.8 1483.54,1103.4 1484.20,1104.3 1484.86,1104.3 1485.52,1104.6 1486.18,1104.9 1486.84,1104.1 1487.50,1104.5 1488.16,1103.1 1488.82,1103.3 1489.48,1105.2 1490.14,1100.7 1490.80,1104.2 1491.46,1108.3 1492.12,1100.8 1492.79,1105.8 1493.45,1100.9 1494.11,1104.0 1494.77,1105.9 1495.43,1105.7 1496.09,1102.1 1496.75,1101.4 1497.41,1101.2 1498.07,1104.4 1498.73,1102.7 1499.39,1103.3 1500.05,1103.7 1500.71,1103.9 1501.37,1104.1 1502.03,1103.4 1502.69,1100.8 1503.35,1105.4 1504.01,1099.1 1504.67,1105.0 1505.33,1102.2 1505.99,1102.8 1506.65,1102.3 1507.31,1102.5 1507.97,1103.0 1508.33,1102.6 1508.64,1101.2 1509.30,1103.8 1509.96,1101.2 1510.62,1103.7 1511.28,1101.1 1511.94,1099.8 1512.60,1101.2 1513.26,1101.4 1513.92,1098.3 1514.58,1098.9 1515.00,1101.2 1515.24,1097.5 1515.90,1097.5 1516.56,1098.8 1517.22,1096.6 1517.88,1094.5 1518.54,1095.5 1519.20,1098.4 1519.86,1098.6 1520.52,1098.3 1521.18,1097.8 1521.67,1095.2 1521.84,1098.2 1522.50,1099.5 1523.16,1097.3 1523.83,1100.3 1524.49,1098.9 1525.15,1100.3 1525.81,1101.2 1526.47,1098.9 1527.13,1103.9 1527.79,1101.0 1528.45,1102.7 1529.11,1102.7 1529.77,1104.7 1530.43,1105.2 1531.09,1105.2 1531.75,1107.8 1532.41,1106.7 1533.07,1106.2 1533.33,1102.7 1533.73,1106.6 1534.39,1106.6 1535.05,1105.8 1535.71,1105.8 1536.37,1108.0 1537.03,1108.6 1537.69,1109.9 1538.35,1108.8 1539.01,1106.0 1539.67,1107.4 1540.34,1105.0 1540.83,1107.0 1541.00,1106.2 1541.66,1102.8 1542.32,1099.4 1542.98,1096.1 1543.64,1092.7 1544.17,1090.0 1544.30,1088.1 1544.96,1078.6 1545.62,1069.1 1546.25,1060.0 1546.28,1059.7 1546.94,1053.4 1547.60,1047.0 1548.26,1040.7 1548.33,1040.0 1548.92,1045.6 1549.58,1052.0 1550.24,1058.3 1550.42,1060.0 1550.90,1069.9 1551.56,1083.4 1552.08,1094.0 1552.22,1095.3 1552.88,1101.7 1553.54,1108.0 1554.17,1114.0 1554.20,1113.7 1554.86,1116.3 1555.53,1118.3 1556.19,1120.4 1556.85,1122.9 1557.50,1125.0 1557.51,1123.7 1558.17,1122.6 1558.83,1121.6 1559.49,1120.6 1560.15,1118.0 1560.81,1119.7 1561.47,1116.8 1562.13,1114.5 1562.50,1114.0 1562.79,1115.9 1563.45,1114.6 1564.11,1110.4 1564.77,1110.0 1565.43,1109.7 1566.09,1105.9 1566.67,1105.2 1566.75,1108.1 1567.41,1104.7 1568.07,1104.9 1568.73,1103.3 1569.39,1104.0 1570.05,1105.9 1570.71,1103.4 1571.38,1102.5 1572.04,1103.2 1572.50,1106.7 1572.70,1104.5 1573.36,1104.2 1574.02,1106.1 1574.68,1107.3 1575.34,1107.6 1576.00,1105.5 1576.66,1109.5 1577.32,1109.5 1577.50,1110.0 1577.98,1112.3 1578.64,1115.5 1579.30,1118.6 1579.96,1121.8 1580.62,1125.0 1580.83,1126.0 1581.28,1127.4 1581.94,1128.9 1582.60,1131.4 1583.26,1133.1 1583.92,1134.9 1584.58,1136.0" fill="none" stroke="#000" stroke-width="9" stroke-linejoin="bevel"/>
<ellipse cx="199.0" cy="727.0" rx="5.4" ry="4.5" fill="#000"/>
<ellipse cx="330.0" cy="624.0" rx="5.4" ry="4.5" fill="#000"/>
<ellipse cx="1002.0" cy="684.0" rx="5.4" ry="4.5" fill="#000"/>
<ellipse cx="1043.0" cy="925.0" rx="5.4" ry="4.5" fill="#000"/>
<ellipse cx="1640.0" cy="1010.0" rx="5.4" ry="4.5" fill="#000"/>
<ellipse cx="1723.0" cy="1085.0" rx="5.4" ry="4.5" fill="#000"/>
<ellipse cx="1869.0" cy="1125.0" rx="5.4" ry="4.5" fill="#000"/>
<rect x="139.2" y="725.6" width="37.6" height="32.7" rx="2"/>
<rect x="297.7" y="489.6" width="37.6" height="32.7" rx="2"/>
<rect x="456.2" y="841.6" width="37.6" height="32.7" rx="2"/>
<rect x="614.7" y="780.0" width="37.6" height="32.7" rx="2"/>
<rect x="773.2" y="706.0" width="37.6" height="32.7" rx="2"/>
<rect x="931.7" y="645.1" width="37.6" height="32.7" rx="2"/>
<rect x="1090.2" y="990.1" width="37.6" height="32.7" rx="2"/>
<rect x="1248.7" y="970.6" width="37.6" height="32.7" rx="2"/>
<rect x="1407.2" y="976.6" width="37.6" height="32.7" rx="2"/>
<rect x="1565.7" y="964.6" width="37.6" height="32.7" rx="2"/>
<rect x="1724.2" y="1057.7" width="37.6" height="32.7" rx="2"/>
<rect x="1882.7" y="1119.7" width="37.6" height="32.7" rx="2"/>
<polyline transform="scale(1.2,1)" points="131.67,719.6 132.08,717.3 132.33,715.2 132.99,705.5 133.65,714.0 134.31,703.3 134.97,712.8 135.63,710.2 136.29,709.5 136.95,708.0 137.61,704.6 138.27,700.1 138.93,699.4 139.17,708.2 139.59,696.1 140.25,698.1 140.91,694.6 141.57,695.7 142.23,696.9 142.89,700.3 143.55,696.5 144.21,695.8 144.88,693.9 145.54,698.2 146.20,688.7 146.86,697.5 147.52,705.4 148.18,691.7 148.84,696.1 149.50,714.5 150.00,689.5 150.16,685.4 150.82,693.1 151.48,707.5 152.14,708.8 152.80,687.6 153.46,699.1 154.12,695.3 154.78,691.3 155.44,682.4 156.10,701.6 156.76,689.2 157.42,696.6 158.08,695.1 158.74,706.6 159.40,702.0 160.06,686.7 160.73,692.4 161.17,700.7 161.39,686.5 162.05,690.5 162.71,692.7 163.37,681.8 164.03,682.7 164.69,679.1 165.35,688.8 166.01,683.2 166.67,690.1 167.33,684.7 167.99,686.1 168.65,681.5 169.31,684.9 169.97,679.3 170.63,673.5 171.29,684.0 171.95,681.9 172.33,690.4 172.61,674.8 173.27,671.3 173.93,665.0 174.59,648.7 175.25,664.6 175.91,675.6 176.58,666.1 177.24,654.3 177.90,674.5 178.56,666.0 179.22,666.9 179.88,665.8 180.54,667.0 181.20,670.4 181.86,655.3 182.52,664.5 183.18,662.0 183.50,672.1 183.84,658.9 184.50,672.2 185.16,665.6 185.82,670.0 186.48,656.4 187.14,663.5 187.80,660.0 188.46,648.9 189.12,654.5 189.78,652.4 190.44,648.6 191.10,648.6 191.76,643.9 192.43,648.1 193.09,651.3 193.75,644.3 194.41,639.0 194.67,652.7 195.07,644.3 195.73,645.5 196.39,643.1 197.05,640.3 197.71,645.8 198.37,638.4 199.03,640.5 199.69,631.2 200.35,629.1 201.01,635.2 201.67,647.1 202.33,636.4 202.99,645.2 203.65,635.9 204.31,634.9 204.97,628.0 205.63,630.2 205.83,639.3 206.29,634.0 206.95,625.1 207.61,624.4 208.28,630.5 208.94,621.5 209.60,626.1 210.26,617.1 210.92,622.1 211.58,624.5 212.24,620.3 212.90,616.5 213.56,614.7 214.22,612.4 214.88,611.3 215.54,614.9 216.20,613.5 216.86,609.0 217.00,607.0 217.52,603.6 218.18,606.0 218.84,603.7 219.50,596.1 220.16,603.9 220.82,611.3 221.48,592.8 222.14,597.3 222.80,603.0 223.46,592.6 224.13,591.3 224.79,592.7 225.45,593.2 226.11,587.5 226.77,592.5 227.43,578.2 228.08,585.5 228.09,586.3 228.75,583.3 229.41,582.6 230.07,580.0 230.73,580.8 231.39,575.2 232.05,574.2 232.71,569.5 233.37,568.2 234.03,568.2 234.69,563.6 235.35,563.2 236.01,560.3 236.67,560.2 237.33,559.7 237.99,559.5 238.65,551.6 239.25,552.7 239.31,559.6 239.98,562.3 240.64,561.8 241.30,542.7 241.96,548.0 242.62,554.4 243.28,556.2 243.33,551.8 243.94,551.1 244.60,550.4 245.26,543.2 245.92,548.6 246.58,552.2 247.24,544.0 247.50,546.0 247.90,543.2 248.56,538.5 249.22,533.9 249.88,529.3 250.54,524.6 251.20,520.0 251.86,515.3 252.52,510.7 253.18,506.1 253.33,505.0 253.84,500.1 254.50,493.8 255.16,487.4 255.83,481.1 256.49,474.7 257.15,468.4 257.50,465.0 257.81,461.5 258.47,454.1 259.13,446.6 259.79,439.1 260.42,432.0 260.45,432.2 261.11,437.0 261.77,441.7 262.43,446.5 263.09,451.2 263.75,456.0 264.41,463.7 265.07,471.5 265.73,479.2 266.39,487.0 267.05,494.7 267.50,500.0 267.71,502.2 268.37,508.9 269.03,515.6 269.69,522.4 270.35,529.1 271.01,535.8 271.68,542.6 272.34,549.3 272.50,551.0 273.00,558.3 273.66,568.1 274.32,577.9 274.98,587.7 275.00,588.0 275.64,570.4 276.30,552.2 276.96,533.9 277.62,515.7 278.28,497.5 278.94,479.3 279.60,461.0 280.00,450.0 280.26,443.8 280.92,427.9 281.58,412.0 282.24,396.2 282.90,380.3 283.56,364.5 284.22,348.6 284.88,332.8 285.00,330.0 285.54,316.8 286.20,300.8 286.86,284.7 287.52,268.7 288.19,252.7 288.85,236.6 289.51,220.6 290.17,204.6 290.42,198.5 290.83,229.7 291.49,279.8 292.15,330.0 292.81,380.1 293.33,420.0 293.47,425.9 294.13,454.4 294.79,482.9 295.45,511.4 296.11,540.0 296.77,568.5 297.43,597.0 297.50,600.0 298.09,616.6 298.75,635.1 299.41,653.6 300.07,672.0 300.73,690.5 301.39,709.0 302.05,727.5 302.50,740.0 302.71,744.6 303.38,758.7 304.04,772.8 304.70,786.9 305.36,801.0 306.02,815.1 306.67,829.0 306.68,829.0 307.34,831.8 308.00,834.6 308.66,837.4 309.32,840.1 309.98,842.9 310.00,843.0 310.64,843.3 311.30,847.6 311.96,841.4 312.62,840.6 313.28,839.3 313.94,849.1 314.60,849.8 315.26,842.1 315.92,844.3 316.58,843.7 316.67,845.4 317.24,846.6 317.90,845.1 318.56,842.7 319.22,841.5 319.89,840.1 320.55,834.8 321.21,844.0 321.87,841.7 322.53,845.1 323.19,845.0 323.85,842.0 324.51,844.2 325.17,847.8 325.83,847.2 326.49,843.9 326.67,844.4 327.15,849.0 327.81,847.8 328.47,848.0 329.13,846.3 329.79,849.5 330.45,847.1 331.11,855.7 331.77,845.1 332.43,844.2 333.09,852.4 333.75,846.3 334.41,843.8 335.08,848.0 335.74,838.3 336.40,848.0 337.06,846.4 337.72,847.3 338.38,843.5 339.04,850.8 339.70,847.3 340.36,846.1 341.02,847.4 341.67,843.1 341.68,845.6 342.34,840.6 343.00,841.8 343.66,846.5 344.32,845.7 344.98,847.8 345.64,842.7 346.30,844.4 346.96,842.2 347.62,845.3 348.28,847.0 348.94,847.8 349.60,845.9 350.26,840.9 350.93,844.3 351.59,839.7 352.25,836.5 352.91,843.6 353.57,843.1 354.23,845.2 354.89,845.3 355.55,838.0 356.21,838.9 356.67,842.0 356.87,842.1 357.53,842.9 358.19,836.5 358.85,839.8 359.51,842.5 360.17,846.5 360.83,835.1 361.49,844.7 362.15,837.7 362.81,833.2 363.47,842.5 364.13,833.7 364.79,833.0 365.45,839.2 366.11,839.9 366.67,836.2 366.78,833.4 367.44,830.6 368.10,836.2 368.76,827.6 369.42,830.6 370.08,839.4 370.74,837.8 371.40,839.8 372.06,836.9 372.72,831.4 373.38,837.0 374.04,829.0 374.70,837.7 375.36,840.0 376.02,831.7 376.68,838.7 377.34,835.2 378.00,834.4 378.66,828.0 379.32,834.3 379.98,837.9 380.00,828.8 380.64,832.9 381.30,831.9 381.96,828.4 382.63,837.5 383.29,833.6 383.95,833.4 384.61,838.3 385.27,828.5 385.93,850.3 386.59,829.6 387.25,825.5 387.91,835.1 388.57,833.5 389.23,825.9 389.89,826.0 390.55,835.3 391.21,832.1 391.87,832.5 392.53,834.7 393.19,826.4 393.85,836.4 394.51,829.4 395.17,832.9 395.25,823.9 395.83,832.8 396.49,829.8 397.15,841.5 397.81,826.6 398.48,835.5 399.14,830.2 399.80,834.9 400.46,827.2 401.12,828.2 401.78,812.9 402.44,817.7 403.10,830.1 403.76,826.2 404.42,827.8 405.08,821.7 405.74,827.0 406.40,820.4 407.06,821.6 407.72,828.2 408.38,827.0 409.04,818.3 409.70,820.6 410.36,821.2 411.02,818.7 411.68,818.6 412.34,813.5 413.00,821.4 413.66,812.2 414.33,812.2 414.99,824.1 415.00,827.1 415.65,827.0 416.31,818.5 416.97,813.4 417.63,820.2 418.29,824.4 418.95,816.2 419.61,813.1 420.27,805.9 420.93,805.6 421.59,824.0 422.25,806.3 422.91,810.4 423.57,812.2 424.23,814.9 424.89,806.2 425.55,816.2 426.21,816.0 426.87,812.9 427.53,808.9 428.19,810.0 428.85,801.2 429.51,815.0 430.18,808.4 430.83,803.5 430.84,810.8 431.50,813.3 432.16,812.0 432.82,813.0 433.48,815.6 434.14,805.8 434.80,809.3 435.46,809.2 436.12,799.3 436.78,812.8 437.44,804.6 438.10,807.3 438.76,807.1 439.42,800.5 440.08,809.0 440.74,809.4 441.40,804.6 442.06,787.3 442.72,810.2 443.38,801.4 444.04,798.3 444.70,798.1 445.36,794.9 446.03,798.4 446.69,803.4 447.35,793.5 448.01,800.2 448.33,795.6 448.67,797.4 449.33,796.7 449.99,800.3 450.65,804.1 451.31,798.4 451.97,803.4 452.63,806.5 453.29,790.3 453.95,802.5 454.61,796.5 455.27,797.0 455.93,803.3 456.59,796.6 457.25,794.4 457.91,804.7 458.57,803.5 459.23,799.9 459.89,813.1 460.55,792.1 461.21,788.5 461.88,796.2 462.54,791.1 463.20,799.3 463.86,793.9 464.52,793.8 465.18,797.1 465.58,792.4 465.84,786.3 466.50,792.6 467.16,800.2 467.82,797.3 468.48,800.8 469.14,804.6 469.80,799.9 470.46,794.5 471.12,790.4 471.78,796.8 472.33,802.8 472.44,801.8 473.10,798.8 473.76,789.0 474.42,796.4 475.08,796.8 475.74,799.4 476.40,785.4 477.06,788.3 477.73,792.6 478.39,792.2 479.05,788.0 479.71,793.8 480.37,789.2 481.03,796.6 481.69,787.6 482.35,791.1 483.01,778.2 483.67,790.5 484.33,785.5 484.99,792.8 485.65,787.7 486.31,795.1 486.97,785.2 487.63,780.0 488.29,788.9 488.95,790.5 489.61,783.0 490.27,779.7 490.93,790.7 491.59,792.0 492.25,790.0 492.91,786.2 493.57,785.4 494.24,794.1 494.67,789.4 494.90,780.0 495.56,778.8 496.22,788.0 496.88,788.3 497.54,780.8 498.20,779.7 498.86,789.0 499.52,781.8 500.18,787.9 500.84,777.0 501.50,777.5 502.16,773.3 502.82,782.3 503.48,780.0 504.14,772.8 504.80,782.7 505.46,778.7 506.12,780.2 506.78,788.9 507.44,786.3 508.10,783.5 508.76,778.8 509.42,773.8 510.09,776.5 510.75,777.9 511.41,786.6 512.07,774.4 512.73,776.3 513.39,779.0 514.05,781.0 514.71,784.6 515.37,785.7 516.03,777.4 516.69,788.6 517.35,781.5 518.01,773.3 518.67,772.1 519.33,774.9 519.99,775.6 520.65,781.1 521.31,772.1 521.97,773.2 522.63,771.5 523.29,777.4 523.95,767.8 524.61,778.6 525.27,771.0 525.94,773.9 526.60,777.3 527.26,776.3 527.92,789.8 528.58,769.0 529.24,762.1 529.90,765.9 530.56,777.2 531.22,766.3 531.88,777.4 532.54,770.1 533.20,774.9 533.86,762.0 534.52,775.6 535.18,775.8 535.84,763.9 536.50,775.7 537.16,782.5 537.82,767.6 538.48,762.0 539.14,763.4 539.80,764.6 540.46,771.3 541.13,775.3 541.79,762.5 542.45,763.1 543.11,756.3 543.77,760.6 544.43,765.6 545.09,751.5 545.75,765.9 546.41,766.5 547.07,767.8 547.73,757.6 548.39,751.6 549.05,758.2 549.71,753.6 550.37,749.2 551.03,754.2 551.69,750.3 552.35,768.1 553.01,761.1 553.67,761.4 554.33,750.0 554.99,763.2 555.65,753.1 556.31,759.4 556.98,748.7 557.64,757.2 558.30,744.1 558.96,751.9 559.62,751.1 560.28,744.5 560.94,751.6 561.60,747.9 561.67,748.8 562.26,754.8 562.92,757.7 563.58,749.2 564.24,757.1 564.90,755.3 565.56,753.7 566.22,758.1 566.88,740.9 567.54,756.2 568.20,750.7 568.86,746.3 569.52,747.3 570.18,753.5 570.84,754.3 571.50,751.4 572.16,740.9 572.83,739.0 573.49,747.0 574.15,750.0 574.81,742.5 575.47,750.9 576.13,749.2 576.79,748.3 577.45,741.2 578.11,752.0 578.77,750.2 579.43,752.1 580.09,746.5 580.75,737.3 581.41,746.1 582.07,748.5 582.73,742.8 583.39,737.0 583.92,746.2 584.05,746.5 584.71,735.8 585.37,738.3 586.03,734.0 586.69,743.4 587.35,742.2 588.01,750.4 588.68,735.5 589.34,747.4 590.00,738.6 590.66,740.9 591.32,732.3 591.98,738.8 592.64,735.4 593.30,737.4 593.96,738.6 594.62,739.9 595.28,741.5 595.94,736.4 596.60,731.3 597.26,741.5 597.92,735.9 598.58,731.8 599.24,742.3 599.90,736.0 600.56,738.1 601.22,724.4 601.88,730.0 602.54,744.1 603.20,735.4 603.86,735.0 604.53,728.1 605.19,730.8 605.85,733.3 606.25,730.6 606.51,730.3 607.17,720.9 607.83,725.8 608.49,727.3 609.15,732.5 609.81,731.9 610.47,728.6 611.13,724.4 611.79,724.0 612.45,729.0 613.11,719.9 613.77,725.7 614.43,724.8 615.09,724.8 615.75,734.9 616.41,724.7 617.07,729.8 617.73,733.5 618.39,727.2 619.05,724.0 619.71,716.8 620.38,732.2 621.04,716.9 621.70,711.4 622.36,728.1 623.02,713.8 623.68,714.9 624.34,717.2 625.00,714.2 625.66,708.4 626.32,721.1 626.98,722.3 627.64,723.4 628.30,718.7 628.58,716.5 628.96,715.6 629.62,724.7 630.28,722.1 630.94,714.6 631.60,718.3 632.26,709.6 632.92,718.4 633.58,709.3 634.24,713.9 634.90,712.9 635.56,699.1 636.23,716.9 636.89,712.6 637.55,708.0 638.21,707.9 638.87,710.8 639.53,710.0 640.19,712.9 640.85,710.7 641.51,712.8 642.17,710.3 642.83,700.9 643.49,700.4 644.15,710.2 644.81,709.3 645.47,706.7 646.13,699.1 646.79,701.9 647.45,700.9 648.11,708.5 648.77,700.0 649.43,696.5 650.09,699.1 650.75,704.7 651.41,711.1 652.08,699.4 652.74,707.7 653.40,698.7 654.06,698.3 654.72,695.6 655.38,704.1 656.04,696.7 656.70,704.0 657.36,696.2 658.02,707.4 658.68,698.7 659.34,697.4 660.00,690.1 660.42,703.4 660.66,698.0 661.32,696.9 661.98,696.6 662.64,693.9 663.30,693.8 663.96,698.5 664.62,692.4 665.28,696.0 665.94,709.1 666.60,696.2 667.26,695.4 667.93,701.9 668.59,691.7 669.25,704.7 669.91,697.1 670.57,690.8 671.23,696.4 671.89,693.5 672.55,701.1 673.21,694.8 673.87,701.3 674.53,686.9 675.19,695.1 675.85,700.6 676.51,700.3 677.17,697.9 677.83,701.7 678.49,701.9 679.15,697.7 679.81,698.9 680.47,702.7 681.13,698.8 681.79,683.9 682.45,689.3 683.11,694.4 683.33,701.7 683.77,697.9 684.44,700.4 685.10,701.7 685.76,698.6 686.42,689.8 687.08,698.9 687.74,686.3 688.40,686.0 689.06,689.9 689.72,679.3 690.38,700.1 691.04,703.2 691.70,688.7 692.36,686.9 693.02,676.9 693.68,690.5 694.34,683.1 695.00,679.7 695.66,678.0 696.32,684.2 696.98,683.1 697.64,682.9 698.30,679.6 698.96,672.8 699.62,689.4 700.29,685.4 700.95,677.1 701.61,672.3 702.27,673.5 702.93,682.1 703.59,680.5 704.25,678.6 704.91,682.9 705.57,672.8 705.83,683.3 706.23,676.4 706.89,671.3 707.55,678.1 708.21,677.0 708.87,671.3 709.53,684.8 710.19,666.0 710.85,676.3 711.51,677.0 712.17,670.8 712.83,674.9 713.49,681.7 714.15,668.4 714.81,668.5 715.48,672.5 716.14,677.0 716.80,680.3 717.46,677.3 718.12,667.9 718.78,680.0 719.44,677.7 720.10,679.4 720.76,664.6 721.42,664.2 722.08,669.7 722.74,670.8 723.40,673.0 724.06,667.0 724.72,667.0 725.38,675.1 726.04,661.1 726.70,666.1 727.36,672.6 728.02,676.5 728.17,673.9 728.68,679.5 729.34,672.2 730.00,673.2 730.66,672.8 731.33,668.0 731.99,660.4 732.65,664.5 733.31,663.9 733.97,659.7 734.63,666.2 735.29,659.4 735.95,653.7 736.61,660.0 737.27,654.1 737.93,660.7 738.59,644.3 739.17,646.9 739.25,656.2 739.91,657.3 740.57,656.2 741.23,663.8 741.89,654.0 742.55,652.3 743.21,659.5 743.87,652.9 744.53,656.7 745.19,661.2 745.85,653.2 746.51,653.3 747.18,650.4 747.84,655.7 748.50,656.7 749.16,658.8 749.82,656.6 750.48,663.7 751.14,653.5 751.80,653.2 752.46,650.7 753.12,659.0 753.78,652.4 754.44,650.2 755.10,644.5 755.76,650.6 756.42,655.9 757.08,636.9 757.74,644.7 758.40,645.6 759.06,645.9 759.72,650.4 760.38,647.9 761.04,650.5 761.67,650.0 761.70,651.5 762.36,647.5 763.02,646.2 763.69,643.5 764.35,642.0 765.01,639.3 765.67,636.3 766.33,636.2 766.99,635.1 767.25,628.7 767.65,632.7 768.31,632.9 768.97,621.7 769.63,644.0 770.29,641.6 770.95,640.3 771.61,639.5 772.27,629.7 772.93,621.3 773.59,634.4 774.25,635.4 774.91,633.7 775.57,633.0 776.23,641.0 776.89,640.0 777.55,635.9 778.21,633.5 778.88,648.8 779.54,641.2 780.20,637.4 780.86,630.0 781.52,628.9 782.18,622.5 782.84,636.3 783.50,639.5 784.16,637.2 784.82,638.3 785.48,639.9 786.14,643.3 786.80,629.4 787.46,632.4 788.12,644.3 788.78,641.2 789.44,642.6 790.10,634.6 790.76,648.5 791.42,641.2 792.08,639.5 792.74,635.4 793.40,639.9 794.06,638.9 794.73,636.6 795.39,644.4 796.05,641.3 796.71,634.4 797.37,630.6 798.03,630.4 798.69,633.5 799.35,616.9 800.01,631.5 800.67,628.0 801.33,638.9 801.99,629.5 802.65,625.5 803.31,625.7 803.97,621.4 804.63,620.2 805.29,622.5 805.95,611.8 806.61,621.0 807.27,611.6 807.93,615.5 808.59,614.6 809.25,620.9 809.91,624.3 810.58,622.7 811.24,612.2 811.67,612.8 811.90,614.2 812.56,614.9 813.22,620.2 813.88,617.7 814.54,614.0 815.20,624.6 815.86,619.0 816.52,624.1 817.18,613.8 817.84,617.3 818.50,615.9 819.16,615.1 819.82,608.4 820.48,615.5 821.14,606.2 821.80,616.3 822.46,623.6 823.00,614.0 823.12,614.6 823.78,618.1 824.44,621.6 825.10,625.0 825.76,628.5 826.43,631.9 827.09,635.4 827.75,638.8 828.41,642.3 829.07,645.8 829.73,649.2 830.39,652.7 830.83,655.0 831.05,655.8 831.71,658.4 832.37,660.9 833.03,663.4 833.69,666.0 834.35,668.5 835.00,671.0 835.01,671.1 835.67,668.8 836.33,666.6 836.99,664.3 837.65,662.3 838.31,660.0 838.33,660.0 838.97,652.3 839.63,644.4 840.29,636.5 840.83,630.0 840.95,628.0 841.61,616.9 842.28,605.8 842.92,595.0 842.94,594.7 843.60,582.5 844.26,570.4 844.92,558.2 845.42,549.0 845.58,545.7 846.24,532.3 846.90,518.8 847.08,515.0 847.56,512.7 848.22,509.5 848.88,506.4 849.17,504.5 849.54,507.2 850.20,511.2 850.83,515.0 850.86,515.9 851.52,537.0 852.08,555.0 852.18,556.9 852.84,569.6 853.50,582.2 854.16,594.9 854.82,607.6 855.00,611.0 855.48,621.3 856.14,635.4 856.80,649.5 857.46,663.6 858.12,677.8 858.79,691.9 859.17,700.0 859.45,705.6 860.11,718.7 860.77,731.8 861.43,745.0 862.08,758.0 862.09,758.1 862.75,773.2 863.41,788.2 864.07,803.3 864.73,818.4 865.39,833.5 865.50,836.0 866.05,846.5 866.71,859.1 867.37,871.8 868.03,884.4 868.69,897.0 869.35,909.6 870.00,922.0 870.01,921.6 870.67,902.6 871.33,883.6 871.99,864.6 872.50,850.0 872.65,842.6 873.31,810.9 873.98,779.2 874.58,750.0 874.64,745.6 875.30,690.1 875.42,680.0 875.96,624.5 876.58,560.0 876.62,554.4 877.28,442.7 877.94,331.0 878.42,250.0 878.60,130.4 878.75,30.0 879.26,29.4 879.92,30.5 880.58,30.7 881.24,30.1 881.90,30.3 882.08,30.0 882.33,250.0 882.56,326.8 883.22,550.1 883.25,560.0 883.83,700.0 883.88,717.7 884.17,823.0 884.54,832.8 885.20,849.9 885.86,867.1 886.52,884.3 886.67,888.0 887.18,900.1 887.84,915.5 888.50,931.0 889.16,946.5 889.83,961.9 890.00,966.0 890.49,968.8 891.15,972.5 891.81,976.3 892.47,980.1 893.13,983.8 893.33,985.0 893.79,985.0 894.45,987.1 895.11,987.8 895.77,990.7 896.43,991.4 897.09,992.8 897.75,995.3 898.33,995.9 898.41,995.2 899.07,993.3 899.73,995.3 900.39,995.6 901.05,996.6 901.71,995.8 902.37,998.5 903.03,999.7 903.69,998.2 904.17,997.2 904.35,999.1 905.01,998.8 905.67,1000.3 906.34,999.1 907.00,998.3 907.66,997.5 908.32,999.3 908.98,995.1 909.64,997.3 910.30,1000.6 910.96,999.1 911.62,999.4 912.28,999.0 912.94,997.0 913.60,998.9 914.26,1000.4 914.92,1000.6 915.58,997.8 916.24,999.8 916.90,1001.4 917.56,1000.2 918.22,1002.6 918.88,999.9 919.54,997.0 920.20,999.9 920.86,1000.3 921.52,1001.2 922.19,1001.0 922.85,1002.8 923.51,1001.2 924.17,1000.5 924.83,999.1 925.49,999.5 926.15,1002.2 926.81,1003.2 927.47,1000.3 928.13,999.9 928.79,999.1 929.45,999.7 930.11,999.3 930.77,998.2 931.43,1000.6 932.09,996.9 932.75,999.0 933.41,998.9 934.07,999.7 934.73,998.1 935.39,996.6 936.05,998.0 936.71,996.2 937.38,997.3 938.04,996.5 938.70,1002.1 939.36,993.7 940.02,995.3 940.68,999.6 941.34,996.9 942.00,994.7 942.66,998.1 943.32,1000.7 943.98,996.9 944.64,998.3 945.30,994.2 945.96,995.4 946.62,996.7 947.28,996.6 947.94,994.9 948.60,995.0 948.67,994.9 949.26,994.6 949.92,994.9 950.58,994.9 951.24,996.7 951.90,993.3 952.56,996.7 953.22,998.9 953.89,996.0 954.55,994.8 955.21,993.9 955.87,994.6 956.53,993.4 957.19,995.9 957.85,995.3 958.51,996.8 959.17,995.9 959.83,996.8 960.49,998.0 961.15,997.0 961.81,1000.2 962.47,997.3 963.13,994.4 963.79,996.3 964.45,996.5 965.11,995.4 965.77,996.5 966.43,996.1 967.09,997.5 967.75,994.8 968.41,993.3 969.07,994.2 969.74,991.4 970.40,990.1 971.06,992.9 971.72,993.8 972.38,993.4 973.04,996.8 973.70,992.6 974.36,992.4 975.02,998.1 975.68,991.7 976.34,995.8 977.00,994.2 977.66,989.8 978.32,996.1 978.98,993.7 979.64,994.9 980.30,994.6 980.96,994.8 981.62,995.8 982.28,998.0 982.92,994.6 982.94,993.7 983.60,995.7 984.26,994.9 984.92,989.4 985.59,994.8 986.25,993.2 986.91,993.5 987.57,991.3 988.23,997.3 988.89,994.7 989.55,993.0 990.21,993.0 990.87,993.4 991.53,993.5 992.19,995.1 992.85,994.3 993.51,992.7 994.17,993.1 994.83,994.6 995.49,991.7 996.15,992.7 996.81,995.2 997.47,993.4 998.13,996.0 998.79,991.3 999.45,992.5 1000.11,991.9 1000.78,991.7 1001.44,994.6 1002.10,995.2 1002.76,993.4 1003.42,993.0 1004.08,996.4 1004.74,996.1 1005.40,989.4 1005.75,993.0 1006.06,989.3 1006.72,989.8 1007.38,991.1 1008.04,989.8 1008.70,992.6 1009.36,990.4 1010.02,990.4 1010.68,990.3 1011.34,993.2 1012.00,990.3 1012.66,991.0 1013.32,990.0 1013.98,990.9 1014.64,988.4 1015.30,987.9 1015.96,989.9 1016.63,987.6 1017.29,984.0 1017.95,984.3 1018.61,985.4 1019.27,986.7 1019.93,984.1 1020.50,987.8 1020.59,985.9 1021.25,985.0 1021.91,983.5 1022.57,987.2 1023.23,987.3 1023.89,984.4 1024.55,989.1 1025.21,989.2 1025.87,989.9 1026.53,987.4 1027.19,989.4 1027.85,984.3 1028.51,989.0 1029.17,987.7 1029.83,988.6 1030.49,989.8 1031.15,988.0 1031.81,989.2 1032.48,988.0 1033.14,988.6 1033.33,988.0 1033.80,990.4 1034.46,991.6 1035.12,987.1 1035.78,985.6 1036.44,987.6 1037.10,988.3 1037.76,987.6 1038.42,984.6 1039.08,986.3 1039.74,984.3 1040.40,984.6 1041.06,984.7 1041.72,983.7 1042.38,984.9 1043.04,982.7 1043.70,985.9 1044.36,983.0 1045.02,980.3 1045.68,983.7 1046.34,983.0 1047.00,981.5 1047.66,980.6 1048.33,980.8 1048.99,981.3 1049.65,979.1 1050.31,980.4 1050.97,977.4 1051.63,978.9 1052.29,975.8 1052.95,977.8 1053.61,977.8 1054.27,975.3 1054.93,976.5 1055.59,972.1 1056.25,974.8 1056.91,975.1 1057.57,977.3 1058.23,976.7 1058.89,979.2 1059.55,981.3 1060.21,978.7 1060.87,980.7 1061.53,982.7 1062.19,982.0 1062.85,982.9 1063.51,981.1 1064.17,982.8 1064.84,980.9 1065.50,984.9 1066.16,984.7 1066.82,985.3 1067.48,981.8 1068.14,987.5 1068.80,989.0 1069.46,989.4 1070.12,988.3 1070.78,990.4 1070.83,988.2 1071.44,987.1 1072.10,988.3 1072.76,987.3 1073.42,991.8 1074.08,984.5 1074.74,989.4 1075.40,987.6 1076.06,988.2 1076.72,990.6 1077.38,989.3 1078.04,991.5 1078.70,989.5 1079.36,989.6 1080.03,990.2 1080.69,992.3 1081.35,989.0 1082.01,989.8 1082.67,989.5 1083.33,989.8 1083.99,988.6 1084.65,990.3 1085.31,991.8 1085.50,993.5 1085.97,991.7 1086.63,989.7 1087.29,993.1 1087.95,987.3 1088.61,991.0 1089.27,987.8 1089.93,989.6 1090.59,987.2 1091.25,986.7 1091.91,988.3 1092.57,992.2 1093.23,989.5 1093.89,990.2 1094.55,987.9 1095.21,988.3 1095.88,986.8 1096.54,986.9 1097.20,987.2 1097.86,989.2 1098.52,988.0 1099.18,985.9 1099.84,986.7 1100.50,985.3 1101.16,987.6 1101.82,986.9 1102.48,986.7 1103.14,987.3 1103.80,986.9 1104.46,988.3 1105.12,984.3 1105.78,986.7 1106.44,984.9 1107.10,986.7 1107.76,984.0 1108.42,981.8 1109.08,983.7 1109.74,983.2 1110.40,982.2 1111.06,983.3 1111.73,985.8 1112.39,983.0 1113.05,984.6 1113.71,985.6 1114.08,984.9 1114.37,983.9 1115.03,984.8 1115.69,982.5 1116.35,981.0 1117.01,980.7 1117.67,985.0 1118.33,985.8 1118.99,983.0 1119.65,983.6 1120.31,979.6 1120.97,985.0 1121.63,983.6 1122.29,980.6 1122.95,984.7 1123.61,985.0 1124.27,985.4 1124.93,983.8 1125.59,984.5 1126.25,982.6 1126.91,986.7 1127.58,983.7 1128.24,986.6 1128.90,985.3 1129.56,984.1 1130.22,986.8 1130.88,983.4 1131.54,985.3 1132.20,985.0 1132.86,984.6 1133.52,985.2 1134.18,986.1 1134.84,984.3 1135.50,984.2 1136.16,984.7 1136.82,984.2 1137.48,983.5 1138.14,985.7 1138.80,982.3 1139.46,985.2 1140.12,984.5 1140.78,985.7 1141.44,986.3 1142.10,985.9 1142.50,985.5 1142.76,987.8 1143.43,984.4 1144.09,983.1 1144.75,984.7 1145.41,986.2 1146.07,988.0 1146.73,988.4 1147.39,985.2 1148.05,986.5 1148.71,987.2 1149.37,983.4 1150.03,986.7 1150.69,984.8 1151.35,983.7 1152.01,984.7 1152.67,984.8 1153.33,980.0 1153.99,983.5 1154.65,983.6 1155.31,981.8 1155.97,983.2 1156.63,982.1 1157.29,981.3 1157.95,982.3 1158.61,978.9 1159.28,983.0 1159.94,983.1 1160.60,982.5 1161.26,982.8 1161.92,981.0 1162.58,980.6 1163.24,978.4 1163.90,978.3 1164.56,979.9 1165.22,982.6 1165.33,981.0 1165.88,983.4 1166.54,982.3 1167.20,979.2 1167.86,979.9 1168.52,979.1 1169.18,978.4 1169.84,981.4 1170.50,982.1 1171.16,979.4 1171.82,982.8 1172.48,982.5 1173.14,979.9 1173.80,981.5 1174.46,979.2 1175.13,980.9 1175.79,981.8 1176.45,977.6 1177.11,983.5 1177.77,977.9 1178.43,981.0 1179.09,980.0 1179.75,982.4 1180.41,979.3 1181.07,980.0 1181.73,986.3 1182.39,983.8 1183.05,982.4 1183.71,979.6 1184.37,981.5 1185.03,977.9 1185.69,979.4 1186.35,981.6 1187.01,982.2 1187.67,980.2 1188.33,982.1 1188.99,982.1 1189.65,978.7 1190.31,980.7 1190.98,980.1 1191.64,982.5 1192.30,977.6 1192.96,980.5 1193.62,979.2 1194.28,983.0 1194.94,975.2 1195.60,982.1 1196.26,978.6 1196.92,979.7 1197.58,975.9 1198.24,976.1 1198.90,977.8 1199.56,978.2 1200.22,973.6 1200.88,976.6 1201.54,976.8 1202.20,977.2 1202.86,978.5 1203.52,977.7 1204.17,977.0 1204.18,976.9 1204.84,973.2 1205.50,969.6 1206.16,965.9 1206.83,962.2 1207.49,958.6 1207.50,958.5 1208.15,962.3 1208.81,966.1 1209.47,970.0 1210.13,973.9 1210.79,977.7 1210.83,978.0 1211.45,978.7 1212.11,978.6 1212.77,976.8 1213.43,977.5 1214.09,978.0 1214.75,980.9 1215.41,975.9 1216.07,978.2 1216.73,979.8 1217.39,979.2 1218.05,976.4 1218.71,975.8 1219.37,977.1 1220.03,978.6 1220.69,979.5 1221.35,977.7 1222.01,978.2 1222.42,977.3 1222.68,976.6 1223.34,980.4 1224.00,981.5 1224.66,978.4 1225.32,977.3 1225.98,980.1 1226.64,976.5 1227.30,977.0 1227.96,979.8 1228.62,982.9 1229.28,979.2 1229.94,980.1 1230.60,982.9 1231.26,978.3 1231.92,977.8 1232.58,984.6 1233.24,982.7 1233.75,980.3 1233.90,981.9 1234.56,982.4 1235.22,980.2 1235.88,985.0 1236.54,977.4 1237.20,983.1 1237.86,980.7 1238.53,980.2 1239.19,980.2 1239.85,978.4 1240.51,979.0 1241.17,978.3 1241.83,976.5 1242.49,980.0 1243.15,976.4 1243.81,976.9 1244.47,981.9 1245.13,977.3 1245.79,980.8 1246.45,980.3 1247.11,978.1 1247.77,980.4 1248.43,976.4 1249.09,975.7 1249.75,976.3 1250.41,976.3 1251.07,977.7 1251.73,980.1 1252.39,974.9 1253.05,975.8 1253.71,976.1 1254.38,976.4 1255.04,975.2 1255.70,978.1 1256.36,974.8 1257.02,973.6 1257.68,978.2 1258.33,975.0 1258.34,975.0 1259.00,972.5 1259.66,970.0 1260.32,967.6 1260.98,965.1 1261.64,962.6 1262.30,960.1 1262.33,960.0 1262.96,962.7 1263.62,965.5 1264.28,968.3 1264.94,971.2 1265.60,974.0 1265.83,975.0 1266.26,971.8 1266.92,974.4 1267.58,976.5 1268.24,976.0 1268.90,976.5 1269.56,976.6 1270.23,976.2 1270.89,977.2 1271.55,975.4 1272.21,973.2 1272.87,977.7 1273.53,976.1 1274.19,972.4 1274.85,977.0 1275.51,977.0 1276.17,973.3 1276.83,976.4 1277.49,975.6 1278.15,976.3 1278.81,974.7 1279.47,978.8 1280.13,974.1 1280.79,973.9 1281.45,975.1 1282.11,975.8 1282.77,974.9 1283.43,978.6 1284.09,974.2 1284.75,980.1 1285.00,973.5 1285.41,976.7 1286.08,978.9 1286.74,979.9 1287.40,975.2 1288.06,972.8 1288.72,974.1 1289.38,974.4 1290.04,976.4 1290.70,973.3 1291.36,976.6 1292.02,973.2 1292.68,976.2 1293.34,979.2 1294.00,975.9 1294.66,976.5 1295.32,974.7 1295.98,973.7 1296.64,975.0 1297.30,975.1 1297.96,968.8 1298.62,972.3 1299.28,977.4 1299.94,974.6 1300.60,973.8 1301.26,972.6 1301.92,972.5 1302.17,972.9 1302.59,967.2 1303.25,975.7 1303.91,973.0 1304.57,970.5 1305.23,974.0 1305.89,971.1 1306.55,973.5 1307.21,969.5 1307.87,971.8 1308.53,967.0 1309.19,971.2 1309.85,966.6 1310.51,969.0 1311.17,969.4 1311.83,965.4 1312.49,968.3 1313.15,966.9 1313.81,967.6 1314.47,968.8 1315.13,966.7 1315.79,968.6 1316.45,964.6 1317.11,964.0 1317.78,967.1 1318.44,963.2 1319.10,965.4 1319.76,962.9 1320.42,964.0 1321.08,964.3 1321.74,961.7 1322.40,961.2 1323.06,959.3 1323.72,962.8 1324.38,959.2 1325.04,958.5 1325.70,959.6 1326.36,958.5 1327.02,957.1 1327.68,958.6 1328.34,957.7 1329.00,955.7 1329.66,955.5 1330.32,958.1 1330.98,955.5 1331.64,953.8 1332.30,954.0 1332.96,954.6 1333.62,956.0 1334.29,950.8 1334.95,952.7 1335.61,950.7 1336.27,951.4 1336.93,949.6 1337.50,948.9 1337.59,948.7 1338.25,948.3 1338.91,948.7 1339.57,950.3 1340.23,945.2 1340.89,944.7 1341.55,944.4 1342.21,946.6 1342.87,945.7 1343.53,944.9 1344.19,942.8 1344.85,941.2 1345.51,938.6 1345.83,940.1 1346.17,939.8 1346.83,937.8 1347.49,936.5 1348.15,934.7 1348.81,935.5 1349.47,933.8 1350.14,933.9 1350.80,931.0 1351.25,930.1 1351.46,932.6 1352.12,932.8 1352.78,932.4 1353.44,934.5 1354.10,935.6 1354.76,937.7 1355.42,937.3 1355.83,940.0 1356.08,941.3 1356.74,944.8 1357.40,948.2 1358.06,951.7 1358.72,955.2 1359.38,958.6 1360.04,962.1 1360.70,965.6 1361.36,969.0 1362.02,972.5 1362.50,975.0 1362.68,975.8 1363.34,978.7 1364.00,981.5 1364.66,984.4 1365.33,987.3 1365.99,990.2 1366.65,993.0 1367.31,995.9 1367.97,998.8 1368.63,1001.7 1369.17,1004.0 1369.29,1002.4 1369.95,993.7 1370.61,985.0 1371.27,976.3 1371.93,967.5 1372.50,960.0 1372.59,958.2 1373.25,944.6 1373.91,931.0 1374.57,917.4 1375.23,903.8 1375.42,900.0 1375.89,854.4 1376.55,791.0 1377.21,727.6 1377.50,700.0 1377.87,653.7 1378.53,571.8 1379.19,489.8 1379.33,472.5 1379.85,534.3 1380.51,612.7 1381.18,691.1 1381.25,700.0 1381.84,746.8 1382.50,799.7 1383.16,852.5 1383.75,900.0 1383.82,902.4 1384.48,926.2 1385.14,949.9 1385.42,960.0 1385.80,966.8 1386.46,978.6 1387.12,990.3 1387.78,1002.1 1388.33,1012.0 1388.44,1012.5 1389.10,1013.5 1389.76,1014.0 1390.42,1016.1 1391.08,1016.4 1391.67,1016.6 1391.74,1017.4 1392.40,1016.5 1393.06,1015.2 1393.72,1018.6 1394.38,1019.9 1395.04,1021.4 1395.70,1020.9 1396.36,1019.8 1397.03,1019.3 1397.69,1020.7 1398.35,1021.7 1399.01,1021.4 1399.67,1021.1 1400.00,1022.6 1400.33,1018.5 1400.99,1022.7 1401.65,1024.1 1402.31,1019.4 1402.97,1022.0 1403.63,1020.3 1404.29,1019.6 1404.95,1021.5 1405.61,1021.3 1406.27,1019.9 1406.67,1020.0 1406.93,1019.5 1407.59,1016.5 1408.25,1016.1 1408.91,1013.6 1409.57,1012.4 1410.23,1009.3 1410.83,1008.0 1410.89,1007.6 1411.55,1006.5 1412.21,1005.1 1412.88,1002.4 1413.54,1003.7 1414.20,999.0 1414.86,997.7 1415.52,997.7 1416.18,996.0 1416.25,994.5 1416.84,996.1 1417.50,997.1 1418.16,1000.6 1418.82,998.2 1419.48,1000.2 1420.14,1002.1 1420.80,1003.5 1421.46,1005.7 1421.67,1005.0 1422.12,1008.2 1422.78,1012.8 1423.44,1017.4 1424.10,1022.0 1424.76,1026.7 1425.42,1031.3 1426.08,1035.9 1426.67,1040.0 1426.74,1040.4 1427.40,1043.7 1428.06,1047.0 1428.73,1050.3 1429.39,1053.6 1430.05,1056.9 1430.71,1060.2 1431.37,1063.5 1431.67,1065.0 1432.03,1067.1 1432.69,1068.3 1433.35,1069.4 1434.01,1071.3 1434.67,1073.2 1435.33,1074.3 1435.99,1077.2 1436.65,1078.2 1436.67,1078.0 1437.31,1073.8 1437.97,1069.5 1438.63,1065.2 1439.29,1060.9 1439.95,1056.6 1440.61,1052.3 1441.27,1048.0 1441.93,1043.7 1442.50,1040.0 1442.59,1032.1 1443.25,976.7 1443.91,921.2 1444.17,900.0 1444.58,826.5 1445.24,707.6 1445.83,600.0 1445.90,586.7 1446.56,446.4 1447.08,334.4 1447.22,376.9 1447.88,587.4 1447.92,600.0 1448.54,749.0 1449.17,900.0 1449.20,905.2 1449.86,1016.2 1450.00,1040.0 1450.52,1045.6 1451.18,1052.7 1451.84,1059.9 1452.50,1067.0 1453.16,1073.1 1453.82,1079.2 1454.48,1085.2 1455.00,1090.0 1455.14,1090.3 1455.80,1092.5 1456.46,1093.0 1457.12,1095.2 1457.78,1093.3 1458.44,1098.9 1459.10,1097.4 1459.76,1099.2 1460.00,1099.4 1460.42,1102.9 1461.09,1098.0 1461.75,1099.7 1462.41,1099.8 1463.07,1103.8 1463.73,1102.4 1464.39,1099.0 1465.05,1100.0 1465.71,1100.6 1466.37,1099.3 1467.03,1102.7 1467.69,1101.0 1468.35,1098.1 1469.01,1100.8 1469.67,1100.6 1470.33,1100.0 1470.99,1101.2 1471.65,1101.9 1472.31,1100.5 1472.97,1100.0 1473.63,1101.5 1474.29,1098.4 1474.95,1102.5 1475.00,1099.1 1475.61,1101.3 1476.28,1100.8 1476.94,1101.8 1477.60,1100.2 1478.26,1101.6 1478.92,1098.6 1479.58,1103.1 1480.24,1101.9 1480.90,1102.5 1481.56,1100.3 1482.22,1101.4 1482.88,1100.4 1483.54,1101.0 1484.20,1099.4 1484.86,1100.9 1485.52,1097.1 1486.18,1102.7 1486.84,1099.2 1487.50,1102.3 1488.16,1103.1 1488.82,1102.1 1489.48,1099.3 1490.14,1101.5 1490.80,1102.1 1491.46,1102.2 1491.67,1101.7 1492.12,1101.1 1492.79,1100.4 1493.45,1100.4 1494.11,1101.0 1494.77,1100.6 1495.43,1100.1 1496.09,1100.0 1496.75,1100.5 1497.41,1099.5 1498.07,1101.7 1498.73,1100.3 1499.39,1101.9 1500.05,1099.0 1500.71,1098.6 1501.37,1099.1 1502.03,1099.6 1502.69,1099.7 1503.35,1101.1 1504.01,1096.5 1504.67,1099.9 1505.33,1097.0 1505.99,1097.9 1506.65,1099.0 1507.31,1099.2 1507.97,1101.1 1508.33,1098.7 1508.64,1100.6 1509.30,1099.3 1509.96,1097.5 1510.62,1098.7 1511.28,1096.2 1511.94,1097.2 1512.60,1098.7 1513.26,1096.4 1513.92,1094.8 1514.58,1093.4 1515.00,1093.6 1515.24,1093.0 1515.90,1096.4 1516.56,1094.8 1517.22,1093.6 1517.88,1093.8 1518.54,1095.8 1519.20,1092.3 1519.86,1092.0 1520.52,1094.5 1520.83,1093.2 1521.18,1090.9 1521.84,1093.9 1522.50,1093.5 1523.16,1093.8 1523.83,1094.1 1524.49,1094.5 1525.15,1096.1 1525.81,1097.6 1526.47,1095.6 1526.67,1097.8 1527.13,1095.3 1527.79,1097.8 1528.45,1100.2 1529.11,1099.3 1529.77,1099.4 1530.43,1102.8 1531.09,1102.0 1531.75,1102.2 1532.41,1103.2 1533.07,1101.0 1533.33,1102.7 1533.73,1105.6 1534.39,1103.7 1535.05,1104.6 1535.71,1100.4 1536.37,1100.8 1537.03,1102.2 1537.69,1101.9 1538.35,1097.2 1539.01,1099.9 1539.67,1099.0 1540.00,1098.2 1540.34,1098.9 1541.00,1096.2 1541.66,1096.3 1542.32,1095.3 1542.98,1092.8 1543.64,1092.2 1543.75,1092.0 1544.30,1088.2 1544.96,1083.6 1545.33,1081.0 1545.62,1076.4 1546.28,1065.7 1546.94,1055.0 1547.00,1054.0 1547.60,1045.8 1548.26,1036.7 1548.75,1030.0 1548.92,1027.6 1549.58,1018.5 1549.67,1017.3 1550.24,1023.6 1550.83,1030.0 1550.90,1031.0 1551.56,1040.8 1551.92,1046.0 1552.22,1056.4 1552.88,1078.8 1553.33,1094.0 1553.54,1096.3 1554.20,1103.4 1554.86,1110.5 1555.00,1112.0 1555.53,1113.8 1556.19,1116.1 1556.85,1118.2 1557.51,1120.6 1558.17,1122.8 1558.33,1123.4 1558.83,1122.5 1559.49,1119.4 1560.15,1117.9 1560.81,1116.9 1561.47,1113.9 1562.13,1111.6 1562.50,1112.0 1562.79,1111.1 1563.45,1108.8 1564.11,1106.6 1564.77,1104.2 1565.43,1102.5 1565.83,1102.0 1566.09,1101.0 1566.75,1101.0 1567.41,1097.2 1568.07,1100.5 1568.33,1101.4 1568.73,1100.6 1569.39,1100.7 1570.05,1099.8 1570.71,1099.7 1571.38,1096.2 1572.04,1098.6 1572.70,1099.7 1573.33,1098.0 1573.36,1097.2 1574.02,1099.4 1574.68,1099.2 1575.34,1102.9 1576.00,1101.1 1576.66,1102.0 1577.32,1104.8 1577.50,1103.0 1577.98,1105.2 1578.64,1108.1 1579.30,1111.1 1579.96,1114.1 1580.62,1117.0 1580.83,1118.0 1581.28,1119.7 1581.94,1122.1 1582.60,1124.6 1583.26,1127.1 1583.92,1129.5 1584.58,1132.0" fill="none" stroke="#f00" stroke-width="9" stroke-linejoin="bevel"/>
<ellipse cx="330.0" cy="588.0" rx="5.4" ry="4.5" fill="#f00"/>
<ellipse cx="820.0" cy="698.0" rx="5.4" ry="4.5" fill="#f00"/>
<ellipse cx="950.5" cy="641.0" rx="5.4" ry="4.5" fill="#f00"/>
<ellipse cx="1002.0" cy="671.0" rx="5.4" ry="4.5" fill="#f00"/>
<ellipse cx="1044.0" cy="922.0" rx="5.4" ry="4.5" fill="#f00"/>
<ellipse cx="1643.0" cy="1004.0" rx="5.4" ry="4.5" fill="#f00"/>
<ellipse cx="1724.0" cy="1078.0" rx="5.4" ry="4.5" fill="#f00"/>
<ellipse cx="1870.0" cy="1123.4" rx="5.4" ry="4.5" fill="#f00"/>
<ellipse cx="158.0" cy="716.0" rx="20.5" ry="17.75" fill="#f00"/>
<ellipse cx="316.5" cy="456.0" rx="20.5" ry="17.75" fill="#f00"/>
<ellipse cx="475.0" cy="828.6" rx="20.5" ry="17.75" fill="#f00"/>
<ellipse cx="633.5" cy="774.5" rx="20.5" ry="17.75" fill="#f00"/>
<ellipse cx="792.0" cy="696.8" rx="20.5" ry="17.75" fill="#f00"/>
<ellipse cx="950.5" cy="641.0" rx="20.5" ry="17.75" fill="#f00"/>
<ellipse cx="1109.0" cy="1000.2" rx="20.5" ry="17.75" fill="#f00"/>
<ellipse cx="1267.5" cy="975.0" rx="20.5" ry="17.75" fill="#f00"/>
<ellipse cx="1426.0" cy="980.7" rx="20.5" ry="17.75" fill="#f00"/>
<ellipse cx="1584.5" cy="964.0" rx="20.5" ry="17.75" fill="#f00"/>
<ellipse cx="1743.0" cy="1067.0" rx="20.5" ry="17.75" fill="#f00"/>
<ellipse cx="1901.5" cy="1132.0" rx="20.5" ry="17.75" fill="#f00"/>
</g>
<rect x="188" y="868" width="815" height="276.5" fill="#000"/>
<rect x="169.5" y="852.5" width="814" height="274.5" fill="#fff" stroke="#000" stroke-width="3"/>
<rect x="192" y="988" width="176" height="9" fill="#000"/>
<rect x="261" y="976" width="37.6" height="32.7" rx="3" fill="#000"/>
<rect x="192" y="1084" width="176" height="9" fill="#f00"/>
<ellipse cx="279.6" cy="1088" rx="20.6" ry="17.8" fill="#f00"/>
<text transform="translate(254.03,1210.06) scale(0.6213,0.4706)" font-size="100" xml:space="preserve">1000</text>
<text transform="translate(586.93,1209.85) scale(0.6238,0.4746)" font-size="100" xml:space="preserve">800</text>
<text transform="translate(904.73,1210.04) scale(0.6238,0.4776)" font-size="100" xml:space="preserve">600</text>
<text transform="translate(1222.28,1209.85) scale(0.6152,0.4746)" font-size="100" xml:space="preserve">400</text>
<text transform="translate(1537.39,1209.85) scale(0.6282,0.4746)" font-size="100" xml:space="preserve">200</text>
<text transform="translate(1885.32,1210.04) scale(0.6452,0.4776)" font-size="100" xml:space="preserve">0</text>
<text transform="translate(617.02,1297.17) scale(0.9916,0.7822)" font-size="100" xml:space="preserve">Binding energy (eV)</text>
<text transform="translate(110.98,1026.16) scale(1.0011,0.8198) rotate(-90)" font-size="100" xml:space="preserve">Intensity (arb. unit)</text>
<text transform="translate(171.79,130.13) scale(1.0028,0.7844)" font-size="100" xml:space="preserve">(a)</text>
<text transform="translate(337.08,164.63) scale(0.5635,0.4866)" font-size="100" xml:space="preserve">O <tspan font-style="italic">KLL</tspan></text>
<text transform="translate(1092.96,186.64) scale(0.5689,0.4794)" font-size="100" xml:space="preserve">O 1<tspan font-style="italic">s</tspan></text>
<text transform="translate(1615.92,306.02) scale(0.5565,0.4656)" font-size="100" xml:space="preserve">Si 2<tspan font-style="italic">p</tspan></text>
<text transform="translate(1504.99,433.07) scale(0.5614,0.4648)" font-size="100" xml:space="preserve">Si 2<tspan font-style="italic">s</tspan></text>
<text transform="translate(1230.88,883.42) scale(0.5624,0.4776)" font-size="100" xml:space="preserve">N 1<tspan font-style="italic">s</tspan></text>
<text transform="translate(1408.86,890.51) scale(0.5680,0.4940)" font-size="100" xml:space="preserve">C 1<tspan font-style="italic">s</tspan></text>
<text transform="translate(1768.06,939.01) scale(0.5683,0.4940)" font-size="100" xml:space="preserve">O 2<tspan font-style="italic">s</tspan></text>
<text transform="translate(193.46,919.94) scale(0.7717,0.6078)" font-size="100" xml:space="preserve">Deposition temperature</text>
<text transform="translate(388.54,1014.80) scale(0.7302,0.6308)" font-size="100" xml:space="preserve">T</text>
<text transform="translate(454.42,1012.27) scale(0.8957,0.5185)" font-size="100" xml:space="preserve">=</text>
<text transform="translate(538.88,1013.87) scale(0.8033,0.6164)" font-size="100" xml:space="preserve">70</text>
<text transform="translate(619.06,978.25) scale(0.4595,0.3458)" font-size="100" xml:space="preserve">o</text>
<text transform="translate(639.61,1015.34) scale(0.8183,0.6606)" font-size="100" xml:space="preserve">C</text>
<text transform="translate(388.54,1110.80) scale(0.7302,0.6369)" font-size="100" xml:space="preserve">T</text>
<text transform="translate(454.42,1108.42) scale(0.8957,0.5259)" font-size="100" xml:space="preserve">=</text>
<text transform="translate(521.69,1109.86) scale(0.7761,0.6206)" font-size="100" xml:space="preserve">120</text>
<text transform="translate(638.06,1074.25) scale(0.4595,0.3479)" font-size="100" xml:space="preserve">o</text>
<text transform="translate(658.47,1111.34) scale(0.8267,0.6576)" font-size="100" xml:space="preserve">C</text>
<line x1="411.0" y1="185.2" x2="384.7" y2="206.3" stroke="#000" stroke-width="6.5" stroke-linecap="round"/>
<path d="M362.1,221.9 L381.7,198.7 L391.5,210.9 L364.6,225.1 Z" fill="#000" stroke="#000" stroke-width="3.2" stroke-linejoin="round"/>
<line x1="1121.5" y1="208.3" x2="1094.6" y2="230.2" stroke="#000" stroke-width="6.5" stroke-linecap="round"/>
<path d="M1072.1,245.9 L1091.5,222.6 L1101.4,234.7 L1074.6,249.0 Z" fill="#000" stroke="#000" stroke-width="3.2" stroke-linejoin="round"/>
<line x1="1669.9" y1="320.3" x2="1704.9" y2="352.5" stroke="#000" stroke-width="6.5" stroke-linecap="round"/>
<path d="M1723.7,372.5 L1697.8,356.6 L1708.4,345.1 L1726.4,369.6 Z" fill="#000" stroke="#000" stroke-width="3.2" stroke-linejoin="round"/>
<line x1="1585.2" y1="454.4" x2="1621.1" y2="487.3" stroke="#000" stroke-width="6.5" stroke-linecap="round"/>
<path d="M1639.9,507.3 L1614.0,491.5 L1624.6,480.0 L1642.6,504.4 Z" fill="#000" stroke="#000" stroke-width="3.2" stroke-linejoin="round"/>
<line x1="1281.0" y1="899.5" x2="1273.1" y2="923.3" stroke="#000" stroke-width="6.5" stroke-linecap="round"/>
<path d="M1262.6,948.7 L1266.5,918.6 L1281.3,923.5 L1266.4,949.9 Z" fill="#000" stroke="#000" stroke-width="3.2" stroke-linejoin="round"/>
<line x1="1470.1" y1="907.0" x2="1461.6" y2="930.7" stroke="#000" stroke-width="6.5" stroke-linecap="round"/>
<path d="M1450.5,955.8 L1455.1,925.8 L1469.8,931.1 L1454.3,957.2 Z" fill="#000" stroke="#000" stroke-width="3.2" stroke-linejoin="round"/>
<line x1="1820.4" y1="947.4" x2="1842.6" y2="986.1" stroke="#000" stroke-width="6.5" stroke-linecap="round"/>
<path d="M1854.5,1010.8 L1834.6,987.9 L1848.1,980.1 L1857.9,1008.8 Z" fill="#000" stroke="#000" stroke-width="3.2" stroke-linejoin="round"/>
</svg></body></html>
